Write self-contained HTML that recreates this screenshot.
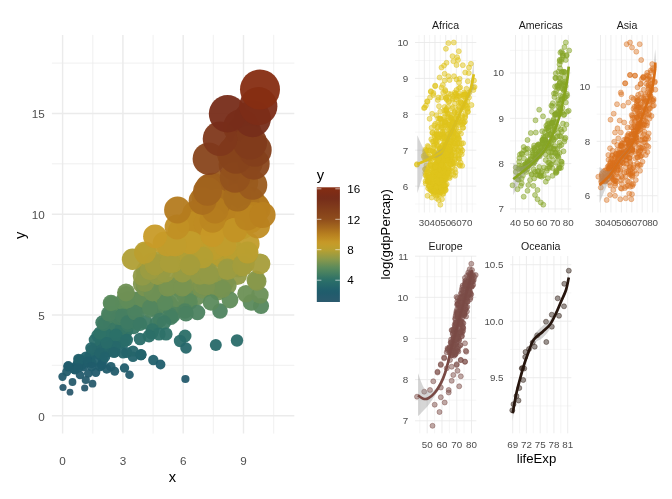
<!DOCTYPE html>
<html><head><meta charset="utf-8"><title>plot</title>
<style>html,body{margin:0;padding:0;background:#fff}svg{display:block}</style></head>
<body>
<svg width="672" height="499" viewBox="0 0 672 499" font-family="Liberation Sans, Arial, sans-serif">
<rect width="672" height="499" fill="#fff"/>
<g stroke="#ebebeb"><line x1="62.6" x2="62.6" y1="34.9" y2="433.6" stroke-width="1.45"/><line x1="92.8" x2="92.8" y1="34.9" y2="433.6" stroke-width="0.75"/><line x1="122.9" x2="122.9" y1="34.9" y2="433.6" stroke-width="1.45"/><line x1="153.1" x2="153.1" y1="34.9" y2="433.6" stroke-width="0.75"/><line x1="183.2" x2="183.2" y1="34.9" y2="433.6" stroke-width="1.45"/><line x1="213.3" x2="213.3" y1="34.9" y2="433.6" stroke-width="0.75"/><line x1="243.5" x2="243.5" y1="34.9" y2="433.6" stroke-width="1.45"/><line x1="273.7" x2="273.7" y1="34.9" y2="433.6" stroke-width="0.75"/><line x1="51.9" x2="294.3" y1="415.7" y2="415.7" stroke-width="1.45"/><line x1="51.9" x2="294.3" y1="365.3" y2="365.3" stroke-width="0.75"/><line x1="51.9" x2="294.3" y1="314.9" y2="314.9" stroke-width="1.45"/><line x1="51.9" x2="294.3" y1="264.6" y2="264.6" stroke-width="0.75"/><line x1="51.9" x2="294.3" y1="214.2" y2="214.2" stroke-width="1.45"/><line x1="51.9" x2="294.3" y1="163.8" y2="163.8" stroke-width="0.75"/><line x1="51.9" x2="294.3" y1="113.4" y2="113.4" stroke-width="1.45"/><line x1="51.9" x2="294.3" y1="63.1" y2="63.1" stroke-width="0.75"/></g>
<g fill-opacity="0.95"><circle cx="111.0" cy="329.9" r="6.8" fill="#337466"/><circle cx="137.2" cy="301.2" r="8.4" fill="#5d8b5b"/><circle cx="188.1" cy="301.9" r="8.3" fill="#5c8b5b"/><circle cx="115.2" cy="338.7" r="6.3" fill="#2a6e68"/><circle cx="230.1" cy="224.2" r="12.6" fill="#bf8c23"/><circle cx="190.8" cy="291.9" r="8.9" fill="#709154"/><circle cx="189.9" cy="222.4" r="12.7" fill="#be8a22"/><circle cx="167.7" cy="259.4" r="10.7" fill="#b09f35"/><circle cx="197.2" cy="296.6" r="8.6" fill="#678e57"/><circle cx="214.5" cy="225.0" r="12.6" fill="#c08d23"/><circle cx="123.6" cy="342.3" r="6.1" fill="#286b69"/><circle cx="235.8" cy="219.4" r="12.9" fill="#bc8621"/><circle cx="206.6" cy="201.0" r="13.9" fill="#ab6f1e"/><circle cx="205.7" cy="197.5" r="14.1" fill="#a76b1e"/><circle cx="142.2" cy="284.0" r="9.3" fill="#80964e"/><circle cx="152.1" cy="263.2" r="10.5" fill="#a89e39"/><circle cx="238.5" cy="267.4" r="10.2" fill="#a19d3e"/><circle cx="90.7" cy="356.9" r="5.3" fill="#22626b"/><circle cx="255.7" cy="206.7" r="13.6" fill="#b0771e"/><circle cx="188.3" cy="279.1" r="9.6" fill="#8a994a"/><circle cx="164.5" cy="290.9" r="8.9" fill="#729153"/><circle cx="133.4" cy="306.0" r="8.1" fill="#55875d"/><circle cx="179.9" cy="231.2" r="12.2" fill="#c49526"/><circle cx="234.0" cy="153.2" r="16.5" fill="#85411b"/><circle cx="197.2" cy="286.4" r="9.2" fill="#7b944f"/><circle cx="234.9" cy="155.6" r="16.4" fill="#87421b"/><circle cx="243.6" cy="199.0" r="14.0" fill="#a96d1e"/><circle cx="205.6" cy="275.4" r="9.8" fill="#919a47"/><circle cx="229.1" cy="212.7" r="13.2" fill="#b67e1f"/><circle cx="120.3" cy="342.7" r="6.1" fill="#286b69"/><circle cx="233.5" cy="154.0" r="16.5" fill="#86411b"/><circle cx="145.3" cy="322.2" r="7.2" fill="#3e7a63"/><circle cx="122.1" cy="308.7" r="8.0" fill="#52855e"/><circle cx="237.3" cy="275.2" r="9.8" fill="#929a46"/><circle cx="185.9" cy="305.2" r="8.2" fill="#57885d"/><circle cx="206.6" cy="261.5" r="10.6" fill="#ac9e38"/><circle cx="238.9" cy="148.3" r="16.8" fill="#833e1b"/><circle cx="164.2" cy="243.1" r="11.6" fill="#c29d2b"/><circle cx="125.2" cy="339.1" r="6.3" fill="#296d69"/><circle cx="183.0" cy="308.2" r="8.0" fill="#52865e"/><circle cx="102.9" cy="342.0" r="6.1" fill="#286b69"/><circle cx="185.1" cy="295.2" r="8.7" fill="#6a8f56"/><circle cx="126.1" cy="294.8" r="8.7" fill="#6a8f56"/><circle cx="242.0" cy="226.8" r="12.5" fill="#c18f24"/><circle cx="155.2" cy="289.1" r="9.0" fill="#769251"/><circle cx="191.7" cy="247.2" r="11.3" fill="#bf9e2d"/><circle cx="174.9" cy="261.9" r="10.5" fill="#ab9e38"/><circle cx="250.8" cy="200.9" r="13.9" fill="#aa6f1e"/><circle cx="149.4" cy="281.1" r="9.5" fill="#86974b"/><circle cx="110.9" cy="339.2" r="6.3" fill="#296d69"/><circle cx="172.7" cy="315.7" r="7.6" fill="#478061"/><circle cx="146.2" cy="293.7" r="8.8" fill="#6d9055"/><circle cx="189.4" cy="301.7" r="8.4" fill="#5c8b5b"/><circle cx="188.4" cy="263.0" r="10.5" fill="#a99e39"/><circle cx="198.8" cy="265.5" r="10.3" fill="#a49d3c"/><circle cx="204.3" cy="219.2" r="12.9" fill="#bc8621"/><circle cx="113.6" cy="330.9" r="6.8" fill="#317366"/><circle cx="181.5" cy="282.6" r="9.4" fill="#83964d"/><circle cx="136.0" cy="319.0" r="7.4" fill="#427d62"/><circle cx="137.1" cy="301.8" r="8.3" fill="#5c8b5b"/><circle cx="123.4" cy="325.9" r="7.0" fill="#387765"/><circle cx="217.3" cy="288.9" r="9.1" fill="#769251"/><circle cx="176.9" cy="249.8" r="11.2" fill="#bd9f2e"/><circle cx="125.3" cy="331.9" r="6.7" fill="#307367"/><circle cx="223.6" cy="259.3" r="10.7" fill="#b09f35"/><circle cx="100.9" cy="342.9" r="6.1" fill="#286b69"/><circle cx="202.5" cy="289.4" r="9.0" fill="#759252"/><circle cx="127.7" cy="324.5" r="7.1" fill="#3a7964"/><circle cx="229.5" cy="229.5" r="12.3" fill="#c39325"/><circle cx="233.8" cy="260.9" r="10.6" fill="#ad9e37"/><circle cx="130.6" cy="305.4" r="8.2" fill="#56885d"/><circle cx="239.7" cy="218.8" r="12.9" fill="#bb8621"/><circle cx="108.4" cy="347.8" r="5.8" fill="#26686a"/><circle cx="169.0" cy="303.1" r="8.3" fill="#5a8a5c"/><circle cx="224.1" cy="184.8" r="14.8" fill="#9a5b1d"/><circle cx="100.1" cy="348.3" r="5.8" fill="#26676a"/><circle cx="224.2" cy="209.0" r="13.4" fill="#b3791f"/><circle cx="224.0" cy="245.8" r="11.4" fill="#c09e2c"/><circle cx="89.4" cy="356.2" r="5.4" fill="#23626b"/><circle cx="221.6" cy="256.8" r="10.8" fill="#b59f32"/><circle cx="132.5" cy="316.1" r="7.6" fill="#477f61"/><circle cx="147.1" cy="304.0" r="8.2" fill="#58895c"/><circle cx="246.8" cy="253.9" r="11.0" fill="#b9a030"/><circle cx="238.7" cy="147.6" r="16.8" fill="#833e1b"/><circle cx="150.0" cy="264.8" r="10.4" fill="#a59d3b"/><circle cx="248.1" cy="243.7" r="11.5" fill="#c29d2b"/><circle cx="212.0" cy="199.4" r="14.0" fill="#a96d1e"/><circle cx="195.5" cy="251.2" r="11.1" fill="#bc9f2f"/><circle cx="121.1" cy="329.5" r="6.8" fill="#337566"/><circle cx="108.9" cy="349.4" r="5.7" fill="#25676a"/><circle cx="180.7" cy="286.2" r="9.2" fill="#7c944f"/><circle cx="224.8" cy="282.4" r="9.4" fill="#83974c"/><circle cx="243.4" cy="182.0" r="14.9" fill="#97571d"/><circle cx="247.4" cy="149.1" r="16.7" fill="#843e1b"/><circle cx="242.6" cy="198.9" r="14.0" fill="#a86d1e"/><circle cx="97.8" cy="349.5" r="5.7" fill="#25666a"/><circle cx="195.5" cy="250.6" r="11.2" fill="#bc9f2e"/><circle cx="145.9" cy="270.7" r="10.0" fill="#9a9c42"/><circle cx="185.4" cy="277.5" r="9.7" fill="#8d9949"/><circle cx="113.8" cy="314.2" r="7.7" fill="#498160"/><circle cx="158.6" cy="266.5" r="10.3" fill="#a29d3d"/><circle cx="133.6" cy="327.3" r="6.9" fill="#367665"/><circle cx="170.0" cy="250.6" r="11.2" fill="#bc9f2e"/><circle cx="97.7" cy="335.6" r="6.5" fill="#2b7068"/><circle cx="247.0" cy="162.3" r="16.0" fill="#8a461c"/><circle cx="227.5" cy="285.6" r="9.2" fill="#7d954f"/><circle cx="188.7" cy="224.4" r="12.6" fill="#bf8c23"/><circle cx="73.5" cy="368.6" r="4.7" fill="#215c6c"/><circle cx="117.1" cy="324.7" r="7.1" fill="#3a7864"/><circle cx="147.8" cy="299.2" r="8.5" fill="#618c59"/><circle cx="218.1" cy="291.5" r="8.9" fill="#719153"/><circle cx="74.5" cy="369.5" r="4.6" fill="#215c6c"/><circle cx="88.4" cy="361.7" r="5.1" fill="#205e6c"/><circle cx="80.7" cy="359.5" r="5.2" fill="#21606b"/><circle cx="126.5" cy="326.5" r="7.0" fill="#387765"/><circle cx="133.5" cy="302.5" r="8.3" fill="#5b8a5c"/><circle cx="180.3" cy="279.8" r="9.6" fill="#89984a"/><circle cx="101.6" cy="345.6" r="5.9" fill="#276969"/><circle cx="206.1" cy="256.5" r="10.8" fill="#b59f32"/><circle cx="79.5" cy="365.5" r="4.9" fill="#1f5c6c"/><circle cx="137.9" cy="300.5" r="8.4" fill="#5f8b5a"/><circle cx="219.3" cy="245.4" r="11.4" fill="#c19d2c"/><circle cx="223.0" cy="212.6" r="13.2" fill="#b67e1f"/><circle cx="149.5" cy="304.4" r="8.2" fill="#58895d"/><circle cx="162.3" cy="268.3" r="10.2" fill="#9f9c3f"/><circle cx="147.3" cy="285.1" r="9.3" fill="#7e954e"/><circle cx="155.3" cy="308.7" r="8.0" fill="#51855e"/><circle cx="170.2" cy="260.4" r="10.6" fill="#ae9e36"/><circle cx="77.8" cy="363.3" r="5.0" fill="#205d6c"/><circle cx="148.3" cy="271.7" r="10.0" fill="#989b43"/><circle cx="250.0" cy="220.6" r="12.8" fill="#bd8822"/><circle cx="242.3" cy="169.9" r="15.6" fill="#8d4b1c"/><circle cx="115.8" cy="328.6" r="6.9" fill="#347566"/><circle cx="195.4" cy="213.8" r="13.2" fill="#b8801f"/><circle cx="221.3" cy="208.9" r="13.4" fill="#b3791f"/><circle cx="209.6" cy="232.9" r="12.1" fill="#c59727"/><circle cx="217.7" cy="286.7" r="9.2" fill="#7b9450"/><circle cx="81.9" cy="365.2" r="4.9" fill="#1f5c6c"/><circle cx="238.8" cy="256.2" r="10.8" fill="#b6a032"/><circle cx="197.6" cy="216.4" r="13.0" fill="#ba8320"/><circle cx="222.5" cy="284.8" r="9.3" fill="#7f954e"/><circle cx="216.3" cy="232.5" r="12.1" fill="#c59626"/><circle cx="205.9" cy="286.7" r="9.2" fill="#7b9450"/><circle cx="212.6" cy="187.4" r="14.6" fill="#9d5e1d"/><circle cx="75.8" cy="366.3" r="4.8" fill="#1f5c6c"/><circle cx="175.8" cy="242.8" r="11.6" fill="#c39d2b"/><circle cx="111.8" cy="343.3" r="6.1" fill="#286b69"/><circle cx="113.3" cy="324.7" r="7.1" fill="#3a7864"/><circle cx="213.6" cy="248.7" r="11.3" fill="#be9e2d"/><circle cx="136.7" cy="313.6" r="7.7" fill="#4a8160"/><circle cx="133.3" cy="315.4" r="7.6" fill="#488061"/><circle cx="80.2" cy="360.1" r="5.1" fill="#215f6b"/><circle cx="257.2" cy="208.9" r="13.4" fill="#b3791f"/><circle cx="212.3" cy="276.5" r="9.7" fill="#8f9a48"/><circle cx="201.1" cy="220.8" r="12.8" fill="#bd8822"/><circle cx="197.7" cy="249.4" r="11.2" fill="#bd9f2e"/><circle cx="159.9" cy="275.5" r="9.8" fill="#919a47"/><circle cx="242.2" cy="257.9" r="10.8" fill="#b29f34"/><circle cx="246.0" cy="203.9" r="13.7" fill="#ae731e"/><circle cx="151.8" cy="278.6" r="9.6" fill="#8b9949"/><circle cx="100.6" cy="348.3" r="5.8" fill="#26676a"/><circle cx="103.2" cy="335.9" r="6.5" fill="#2b6f68"/><circle cx="126.3" cy="330.7" r="6.8" fill="#317466"/><circle cx="122.5" cy="311.2" r="7.8" fill="#4e835f"/><circle cx="145.8" cy="276.4" r="9.7" fill="#909a48"/><circle cx="179.9" cy="288.6" r="9.1" fill="#779351"/><circle cx="106.9" cy="352.2" r="5.6" fill="#24656a"/><circle cx="159.0" cy="295.7" r="8.7" fill="#688e57"/><circle cx="97.9" cy="347.7" r="5.8" fill="#26686a"/><circle cx="127.7" cy="302.1" r="8.3" fill="#5c8a5b"/><circle cx="159.0" cy="279.6" r="9.6" fill="#89984a"/><circle cx="156.7" cy="264.7" r="10.4" fill="#a69d3b"/><circle cx="227.1" cy="216.7" r="13.0" fill="#ba8320"/><circle cx="159.4" cy="270.2" r="10.1" fill="#9b9c41"/><circle cx="234.1" cy="230.5" r="12.3" fill="#c49426"/><circle cx="209.6" cy="188.3" r="14.6" fill="#9e5f1d"/><circle cx="156.6" cy="308.9" r="8.0" fill="#51855e"/><circle cx="110.3" cy="323.9" r="7.1" fill="#3b7964"/><circle cx="233.5" cy="251.6" r="11.1" fill="#bb9f2f"/><circle cx="101.3" cy="348.0" r="5.8" fill="#26676a"/><circle cx="100.9" cy="334.6" r="6.5" fill="#2c7068"/><circle cx="234.5" cy="164.6" r="15.9" fill="#8b481c"/><circle cx="114.3" cy="313.5" r="7.7" fill="#4b8160"/><circle cx="126.0" cy="321.5" r="7.3" fill="#3f7b63"/><circle cx="208.7" cy="287.3" r="9.1" fill="#7a9450"/><circle cx="121.7" cy="328.3" r="6.9" fill="#357565"/><circle cx="179.1" cy="252.7" r="11.0" fill="#bb9f2f"/><circle cx="150.4" cy="295.9" r="8.7" fill="#688e57"/><circle cx="105.4" cy="333.8" r="6.6" fill="#2d7168"/><circle cx="253.7" cy="215.1" r="13.1" fill="#b9811f"/><circle cx="171.9" cy="307.1" r="8.1" fill="#54875e"/><circle cx="118.3" cy="317.5" r="7.5" fill="#457e61"/><circle cx="244.4" cy="263.7" r="10.4" fill="#a89e3a"/><circle cx="250.9" cy="219.8" r="12.8" fill="#bc8721"/><circle cx="217.3" cy="202.5" r="13.8" fill="#ac711e"/><circle cx="122.4" cy="312.7" r="7.7" fill="#4c8260"/><circle cx="193.8" cy="224.0" r="12.6" fill="#bf8c23"/><circle cx="116.5" cy="315.7" r="7.6" fill="#478061"/><circle cx="170.3" cy="308.6" r="8.0" fill="#52855e"/><circle cx="161.9" cy="295.7" r="8.7" fill="#698e57"/><circle cx="206.5" cy="223.3" r="12.7" fill="#bf8b23"/><circle cx="176.3" cy="298.8" r="8.5" fill="#628c59"/><circle cx="192.1" cy="243.3" r="11.6" fill="#c29d2b"/><circle cx="70.0" cy="392.2" r="3.4" fill="#2c5a6e"/><circle cx="63.0" cy="387.5" r="3.6" fill="#295a6e"/><circle cx="84.7" cy="388.0" r="3.6" fill="#2a5a6e"/><circle cx="92.5" cy="383.7" r="3.9" fill="#285b6d"/><circle cx="72.5" cy="382.0" r="3.9" fill="#275b6d"/><circle cx="62.5" cy="376.7" r="4.2" fill="#245b6d"/><circle cx="68.3" cy="365.8" r="4.8" fill="#1f5c6c"/><circle cx="78.3" cy="359.0" r="5.2" fill="#22606b"/><circle cx="66.7" cy="371.7" r="4.5" fill="#225c6c"/><circle cx="75.0" cy="370.0" r="4.6" fill="#215c6c"/><circle cx="83.3" cy="366.7" r="4.8" fill="#205c6c"/><circle cx="91.7" cy="363.3" r="5.0" fill="#205d6c"/><circle cx="80.0" cy="375.0" r="4.3" fill="#245b6d"/><circle cx="88.3" cy="373.3" r="4.4" fill="#235b6d"/><circle cx="95.8" cy="372.5" r="4.5" fill="#225b6d"/><circle cx="85.8" cy="380.0" r="4.1" fill="#265b6d"/><circle cx="100.0" cy="366.7" r="4.8" fill="#205c6c"/><circle cx="103.0" cy="360.0" r="5.2" fill="#21606b"/><circle cx="110.8" cy="366.7" r="4.8" fill="#205c6c"/><circle cx="106.7" cy="369.0" r="4.7" fill="#215c6c"/><circle cx="114.7" cy="371.3" r="4.5" fill="#225c6c"/><circle cx="124.5" cy="368.0" r="4.7" fill="#205c6c"/><circle cx="129.5" cy="374.7" r="4.3" fill="#235b6d"/><circle cx="153.3" cy="360.0" r="5.2" fill="#21606b"/><circle cx="160.5" cy="364.5" r="4.9" fill="#1f5d6c"/><circle cx="133.0" cy="356.7" r="5.3" fill="#22626b"/><circle cx="141.0" cy="354.7" r="5.4" fill="#23636b"/><circle cx="126.7" cy="352.5" r="5.6" fill="#24646a"/><circle cx="115.0" cy="351.7" r="5.6" fill="#24656a"/><circle cx="91.7" cy="350.0" r="5.7" fill="#25666a"/><circle cx="100.0" cy="355.0" r="5.4" fill="#23636b"/><circle cx="85.8" cy="356.7" r="5.3" fill="#22626b"/><circle cx="79.0" cy="360.0" r="5.2" fill="#21606b"/><circle cx="68.0" cy="366.7" r="4.8" fill="#205c6c"/><circle cx="88.0" cy="361.7" r="5.1" fill="#205e6c"/><circle cx="96.7" cy="360.0" r="5.2" fill="#21606b"/><circle cx="91.7" cy="366.7" r="4.8" fill="#205c6c"/><circle cx="78.0" cy="368.0" r="4.7" fill="#205c6c"/><circle cx="101.7" cy="365.0" r="4.9" fill="#1f5c6c"/><circle cx="95.0" cy="340.0" r="6.3" fill="#296d69"/><circle cx="91.0" cy="348.0" r="5.8" fill="#26676a"/><circle cx="100.0" cy="333.0" r="6.6" fill="#2e7267"/><circle cx="104.0" cy="324.0" r="7.1" fill="#3b7964"/><circle cx="109.0" cy="315.8" r="7.6" fill="#478061"/><circle cx="111.7" cy="304.2" r="8.2" fill="#58895c"/><circle cx="116.0" cy="335.0" r="6.5" fill="#2b7068"/><circle cx="126.7" cy="340.0" r="6.3" fill="#296d69"/><circle cx="140.0" cy="339.0" r="6.3" fill="#296d69"/><circle cx="151.7" cy="333.0" r="6.6" fill="#2e7267"/><circle cx="156.7" cy="323.0" r="7.2" fill="#3d7a63"/><circle cx="115.0" cy="346.7" r="5.9" fill="#26686a"/><circle cx="106.7" cy="343.0" r="6.1" fill="#286b69"/><circle cx="100.0" cy="353.0" r="5.5" fill="#24646a"/><circle cx="105.0" cy="356.7" r="5.3" fill="#22626b"/><circle cx="114.0" cy="352.5" r="5.6" fill="#24646a"/><circle cx="123.0" cy="353.0" r="5.5" fill="#24646a"/><circle cx="133.0" cy="351.0" r="5.6" fill="#25656a"/><circle cx="141.0" cy="355.0" r="5.4" fill="#23636b"/><circle cx="128.0" cy="325.0" r="7.1" fill="#3a7864"/><circle cx="136.7" cy="323.0" r="7.2" fill="#3d7a63"/><circle cx="121.7" cy="318.0" r="7.5" fill="#447e62"/><circle cx="123.0" cy="301.7" r="8.4" fill="#5c8b5b"/><circle cx="136.7" cy="300.0" r="8.4" fill="#608c5a"/><circle cx="150.0" cy="298.0" r="8.6" fill="#648d58"/><circle cx="185.4" cy="379.0" r="4.1" fill="#255b6d"/><circle cx="185.0" cy="336.0" r="6.5" fill="#2b6f68"/><circle cx="180.0" cy="341.0" r="6.2" fill="#296c69"/><circle cx="186.0" cy="348.0" r="5.8" fill="#26676a"/><circle cx="215.8" cy="345.0" r="6.0" fill="#276969"/><circle cx="237.0" cy="340.5" r="6.2" fill="#296c69"/><circle cx="141.0" cy="354.5" r="5.5" fill="#23636b"/><circle cx="102.5" cy="322.5" r="7.2" fill="#3d7a63"/><circle cx="108.8" cy="313.8" r="7.7" fill="#4a8160"/><circle cx="122.5" cy="316.0" r="7.6" fill="#477f61"/><circle cx="127.5" cy="322.5" r="7.2" fill="#3d7a63"/><circle cx="135.0" cy="312.5" r="7.8" fill="#4c8260"/><circle cx="150.0" cy="310.0" r="7.9" fill="#50845f"/><circle cx="160.0" cy="320.0" r="7.3" fill="#417c62"/><circle cx="165.0" cy="305.0" r="8.2" fill="#57885d"/><circle cx="170.0" cy="315.0" r="7.6" fill="#488061"/><circle cx="185.0" cy="311.0" r="7.8" fill="#4e835f"/><circle cx="197.5" cy="312.5" r="7.8" fill="#4c8260"/><circle cx="186.0" cy="313.8" r="7.7" fill="#4a8160"/><circle cx="171.0" cy="317.5" r="7.5" fill="#457e61"/><circle cx="164.0" cy="322.5" r="7.2" fill="#3d7a63"/><circle cx="152.5" cy="330.0" r="6.8" fill="#327466"/><circle cx="166.0" cy="334.0" r="6.6" fill="#2d7168"/><circle cx="159.0" cy="334.0" r="6.6" fill="#2d7168"/><circle cx="149.0" cy="336.0" r="6.5" fill="#2b6f68"/><circle cx="140.0" cy="324.0" r="7.1" fill="#3b7964"/><circle cx="111.0" cy="303.0" r="8.3" fill="#5a8a5c"/><circle cx="127.5" cy="300.0" r="8.4" fill="#608c5a"/><circle cx="142.5" cy="298.8" r="8.5" fill="#628c59"/><circle cx="157.5" cy="293.8" r="8.8" fill="#6c9055"/><circle cx="126.0" cy="292.5" r="8.9" fill="#6f9054"/><circle cx="145.0" cy="287.5" r="9.1" fill="#799350"/><circle cx="170.0" cy="286.0" r="9.2" fill="#7c944f"/><circle cx="184.0" cy="286.0" r="9.2" fill="#7c944f"/><circle cx="202.5" cy="285.0" r="9.3" fill="#7e954e"/><circle cx="165.0" cy="302.5" r="8.3" fill="#5b8a5c"/><circle cx="150.0" cy="307.5" r="8.0" fill="#53865e"/><circle cx="220.0" cy="311.0" r="7.8" fill="#4e835f"/><circle cx="211.0" cy="302.5" r="8.3" fill="#5b8a5c"/><circle cx="230.0" cy="300.0" r="8.4" fill="#608c5a"/><circle cx="222.5" cy="289.0" r="9.0" fill="#769251"/><circle cx="206.0" cy="286.0" r="9.2" fill="#7c944f"/><circle cx="261.0" cy="306.0" r="8.1" fill="#55875d"/><circle cx="251.0" cy="302.5" r="8.3" fill="#5b8a5c"/><circle cx="246.0" cy="293.8" r="8.8" fill="#6c9055"/><circle cx="260.0" cy="295.0" r="8.7" fill="#6a8f56"/><circle cx="152.5" cy="292.5" r="8.9" fill="#6f9054"/><circle cx="167.5" cy="287.5" r="9.1" fill="#799350"/><circle cx="182.5" cy="287.5" r="9.1" fill="#799350"/><circle cx="145.0" cy="282.5" r="9.4" fill="#83964c"/><circle cx="142.5" cy="276.0" r="9.8" fill="#909a47"/><circle cx="157.5" cy="275.0" r="9.8" fill="#929a46"/><circle cx="182.5" cy="272.5" r="10.0" fill="#979b43"/><circle cx="200.0" cy="275.0" r="9.8" fill="#929a46"/><circle cx="165.0" cy="272.5" r="10.0" fill="#979b43"/><circle cx="150.0" cy="270.0" r="10.1" fill="#9c9c41"/><circle cx="208.8" cy="272.5" r="10.0" fill="#979b43"/><circle cx="227.5" cy="268.8" r="10.2" fill="#9e9c3f"/><circle cx="242.5" cy="265.0" r="10.4" fill="#a59d3b"/><circle cx="257.0" cy="281.3" r="9.5" fill="#86974c"/><circle cx="256.0" cy="280.0" r="9.5" fill="#88984b"/><circle cx="227.5" cy="270.0" r="10.1" fill="#9c9c41"/><circle cx="209.0" cy="275.0" r="9.8" fill="#929a46"/><circle cx="242.5" cy="266.0" r="10.3" fill="#a39d3c"/><circle cx="132.5" cy="259.3" r="10.7" fill="#b09f35"/><circle cx="146.0" cy="253.8" r="11.0" fill="#baa030"/><circle cx="157.5" cy="262.5" r="10.5" fill="#aa9e39"/><circle cx="172.5" cy="262.5" r="10.5" fill="#aa9e39"/><circle cx="187.5" cy="260.0" r="10.6" fill="#af9f36"/><circle cx="202.5" cy="257.5" r="10.8" fill="#b39f33"/><circle cx="260.0" cy="263.8" r="10.4" fill="#a79d3a"/><circle cx="155.0" cy="265.0" r="10.4" fill="#a59d3b"/><circle cx="170.0" cy="262.5" r="10.5" fill="#aa9e39"/><circle cx="190.0" cy="265.0" r="10.4" fill="#a59d3b"/><circle cx="145.0" cy="252.5" r="11.0" fill="#bb9f2f"/><circle cx="167.5" cy="245.0" r="11.5" fill="#c19d2c"/><circle cx="190.0" cy="242.5" r="11.6" fill="#c39d2b"/><circle cx="175.0" cy="245.0" r="11.5" fill="#c19d2c"/><circle cx="225.0" cy="245.0" r="11.5" fill="#c19d2c"/><circle cx="247.5" cy="252.5" r="11.0" fill="#bb9f2f"/><circle cx="212.5" cy="235.0" r="12.0" fill="#c79927"/><circle cx="235.0" cy="230.0" r="12.3" fill="#c39325"/><circle cx="257.5" cy="226.0" r="12.5" fill="#c18e24"/><circle cx="155.0" cy="236.3" r="11.9" fill="#c89b28"/><circle cx="177.0" cy="227.0" r="12.4" fill="#c19024"/><circle cx="212.5" cy="220.0" r="12.8" fill="#bc8721"/><circle cx="247.5" cy="217.5" r="13.0" fill="#ba8420"/><circle cx="215.0" cy="210.0" r="13.4" fill="#b47b1f"/><circle cx="177.5" cy="210.0" r="13.4" fill="#b47b1f"/><circle cx="262.5" cy="215.0" r="13.1" fill="#b9811f"/><circle cx="202.5" cy="201.0" r="13.9" fill="#ab6f1e"/><circle cx="237.5" cy="197.5" r="14.1" fill="#a76b1e"/><circle cx="207.5" cy="191.3" r="14.4" fill="#a1631d"/><circle cx="252.5" cy="185.0" r="14.8" fill="#9a5b1d"/><circle cx="235.0" cy="177.5" r="15.2" fill="#93521c"/><circle cx="241.0" cy="127.0" r="17.9" fill="#79321a"/><circle cx="244.0" cy="133.0" r="17.6" fill="#7c351b"/><circle cx="208.8" cy="158.8" r="16.2" fill="#88441b"/><circle cx="253.8" cy="163.8" r="15.9" fill="#8a471c"/><circle cx="236.0" cy="157.5" r="16.3" fill="#87431b"/><circle cx="255.0" cy="150.0" r="16.7" fill="#843f1b"/><circle cx="250.0" cy="142.5" r="17.1" fill="#813b1b"/><circle cx="220.0" cy="138.8" r="17.3" fill="#7f381b"/><circle cx="252.5" cy="118.8" r="18.4" fill="#762d1a"/><circle cx="227.5" cy="113.8" r="18.7" fill="#772c19"/><circle cx="258.3" cy="106.2" r="19.1" fill="#7c2c17"/><circle cx="260.0" cy="89.5" r="20.0" fill="#862d12"/></g>
<g font-size="11.7" fill="#4d4d4d">
<text x="44.8" y="420.6" text-anchor="end">0</text>
<text x="44.8" y="319.8" text-anchor="end">5</text>
<text x="44.8" y="219.1" text-anchor="end">10</text>
<text x="44.8" y="118.3" text-anchor="end">15</text>
<text x="62.6" y="465.2" text-anchor="middle">0</text>
<text x="122.9" y="465.2" text-anchor="middle">3</text>
<text x="183.2" y="465.2" text-anchor="middle">6</text>
<text x="243.5" y="465.2" text-anchor="middle">9</text>
</g>
<text x="172.5" y="481.5" font-size="14.7" text-anchor="middle" fill="#000">x</text>
<text transform="translate(24.8,235.3) rotate(-90)" font-size="14.7" text-anchor="middle" fill="#000">y</text>
<defs><linearGradient id="lg" x1="0" y1="1" x2="0" y2="0">
<stop offset="0.0000" stop-color="#2c5a6e"/>
<stop offset="0.0250" stop-color="#285b6d"/>
<stop offset="0.0500" stop-color="#255b6d"/>
<stop offset="0.0750" stop-color="#215c6c"/>
<stop offset="0.1000" stop-color="#205e6c"/>
<stop offset="0.1250" stop-color="#23636b"/>
<stop offset="0.1500" stop-color="#26686a"/>
<stop offset="0.1750" stop-color="#296d69"/>
<stop offset="0.2000" stop-color="#2f7267"/>
<stop offset="0.2250" stop-color="#3a7864"/>
<stop offset="0.2500" stop-color="#457f61"/>
<stop offset="0.2750" stop-color="#50855e"/>
<stop offset="0.3000" stop-color="#5c8b5b"/>
<stop offset="0.3250" stop-color="#6b8f55"/>
<stop offset="0.3500" stop-color="#7b9450"/>
<stop offset="0.3750" stop-color="#8a994a"/>
<stop offset="0.4000" stop-color="#999b42"/>
<stop offset="0.4250" stop-color="#a79d3a"/>
<stop offset="0.4500" stop-color="#b6a032"/>
<stop offset="0.4750" stop-color="#be9e2d"/>
<stop offset="0.5000" stop-color="#c49c2a"/>
<stop offset="0.5250" stop-color="#c69827"/>
<stop offset="0.5500" stop-color="#c08e24"/>
<stop offset="0.5750" stop-color="#bb8521"/>
<stop offset="0.6000" stop-color="#b47c1f"/>
<stop offset="0.6250" stop-color="#ad721e"/>
<stop offset="0.6500" stop-color="#a5681e"/>
<stop offset="0.6750" stop-color="#9d5f1d"/>
<stop offset="0.7000" stop-color="#96551c"/>
<stop offset="0.7250" stop-color="#8e4c1c"/>
<stop offset="0.7500" stop-color="#8b481c"/>
<stop offset="0.7750" stop-color="#87431b"/>
<stop offset="0.8000" stop-color="#843f1b"/>
<stop offset="0.8250" stop-color="#803b1b"/>
<stop offset="0.8500" stop-color="#7d361b"/>
<stop offset="0.8750" stop-color="#79321a"/>
<stop offset="0.9000" stop-color="#762d1a"/>
<stop offset="0.9250" stop-color="#782c18"/>
<stop offset="0.9500" stop-color="#7d2c16"/>
<stop offset="0.9750" stop-color="#812d14"/>
<stop offset="1.0000" stop-color="#862d12"/>
</linearGradient></defs>
<rect x="316.8" y="187.3" width="23.1" height="114.7" fill="url(#lg)"/>
<text x="316.8" y="180.3" font-size="14.7" fill="#000">y</text>
<g font-size="11.7" fill="#000">
<line x1="316.8" x2="321.4" y1="280.2" y2="280.2" stroke="#fff" stroke-width="0.6"/>
<line x1="335.3" x2="339.9" y1="280.2" y2="280.2" stroke="#fff" stroke-width="0.6"/>
<text x="347.2" y="284.4">4</text>
<line x1="316.8" x2="321.4" y1="249.7" y2="249.7" stroke="#fff" stroke-width="0.6"/>
<line x1="335.3" x2="339.9" y1="249.7" y2="249.7" stroke="#fff" stroke-width="0.6"/>
<text x="347.2" y="253.9">8</text>
<line x1="316.8" x2="321.4" y1="219.3" y2="219.3" stroke="#fff" stroke-width="0.6"/>
<line x1="335.3" x2="339.9" y1="219.3" y2="219.3" stroke="#fff" stroke-width="0.6"/>
<text x="347.2" y="223.5">12</text>
<line x1="316.8" x2="321.4" y1="188.8" y2="188.8" stroke="#fff" stroke-width="0.6"/>
<line x1="335.3" x2="339.9" y1="188.8" y2="188.8" stroke="#fff" stroke-width="0.6"/>
<text x="347.2" y="193.0">16</text>
</g>
<g stroke="#ececec" stroke-width="0.5"><line x1="419.0" x2="419.0" y1="35" y2="212.5"/><line x1="429.6" x2="429.6" y1="35" y2="212.5"/><line x1="440.3" x2="440.3" y1="35" y2="212.5"/><line x1="451.0" x2="451.0" y1="35" y2="212.5"/><line x1="461.7" x2="461.7" y1="35" y2="212.5"/><line x1="472.3" x2="472.3" y1="35" y2="212.5"/><line x1="415" x2="476.3" y1="60.5" y2="60.5"/><line x1="415" x2="476.3" y1="96.3" y2="96.3"/><line x1="415" x2="476.3" y1="132.2" y2="132.2"/><line x1="415" x2="476.3" y1="168.1" y2="168.1"/><line x1="415" x2="476.3" y1="204.0" y2="204.0"/></g><g stroke="#e8e8e8" stroke-width="0.85"><line x1="424.3" x2="424.3" y1="35" y2="212.5"/><line x1="435.0" x2="435.0" y1="35" y2="212.5"/><line x1="445.7" x2="445.7" y1="35" y2="212.5"/><line x1="456.3" x2="456.3" y1="35" y2="212.5"/><line x1="467.0" x2="467.0" y1="35" y2="212.5"/><line x1="415" x2="476.3" y1="42.5" y2="42.5"/><line x1="415" x2="476.3" y1="78.4" y2="78.4"/><line x1="415" x2="476.3" y1="114.3" y2="114.3"/><line x1="415" x2="476.3" y1="150.2" y2="150.2"/><line x1="415" x2="476.3" y1="186.1" y2="186.1"/></g><text x="445.5" y="28.8" font-size="10.6" text-anchor="middle" fill="#1a1a1a">Africa</text><g font-size="9.8" fill="#4d4d4d"><text x="408.3" y="45.9" text-anchor="end">10</text><text x="408.3" y="81.8" text-anchor="end">9</text><text x="408.3" y="117.7" text-anchor="end">8</text><text x="408.3" y="153.6" text-anchor="end">7</text><text x="408.3" y="189.5" text-anchor="end">6</text><text x="424.3" y="226.4" text-anchor="middle">30</text><text x="435.0" y="226.4" text-anchor="middle">40</text><text x="445.7" y="226.4" text-anchor="middle">50</text><text x="456.3" y="226.4" text-anchor="middle">60</text><text x="467.0" y="226.4" text-anchor="middle">70</text></g>
<g fill="#dfc31c" fill-opacity="0.5" stroke="#dfc31c" stroke-opacity="0.5" stroke-width="0.95"><circle cx="452.7" cy="133.7" r="2.5"/><circle cx="441.7" cy="147.3" r="2.5"/><circle cx="446.1" cy="97.6" r="2.5"/><circle cx="444.7" cy="131.6" r="2.5"/><circle cx="445.3" cy="169.6" r="2.5"/><circle cx="451.3" cy="141.5" r="2.5"/><circle cx="436.6" cy="175.4" r="2.5"/><circle cx="445.1" cy="122.5" r="2.5"/><circle cx="439.4" cy="194.6" r="2.5"/><circle cx="456.6" cy="139.3" r="2.5"/><circle cx="461.0" cy="148.7" r="2.5"/><circle cx="440.3" cy="118.5" r="2.5"/><circle cx="437.3" cy="170.4" r="2.5"/><circle cx="448.8" cy="102.3" r="2.5"/><circle cx="432.3" cy="185.3" r="2.5"/><circle cx="431.3" cy="139.3" r="2.5"/><circle cx="436.8" cy="163.0" r="2.5"/><circle cx="442.1" cy="167.0" r="2.5"/><circle cx="459.0" cy="124.9" r="2.5"/><circle cx="427.7" cy="145.9" r="2.5"/><circle cx="441.5" cy="87.5" r="2.5"/><circle cx="453.5" cy="137.9" r="2.5"/><circle cx="433.0" cy="175.1" r="2.5"/><circle cx="437.0" cy="166.6" r="2.5"/><circle cx="431.8" cy="179.0" r="2.5"/><circle cx="450.8" cy="148.9" r="2.5"/><circle cx="443.8" cy="177.8" r="2.5"/><circle cx="447.3" cy="153.0" r="2.5"/><circle cx="446.6" cy="110.5" r="2.5"/><circle cx="444.6" cy="73.8" r="2.5"/><circle cx="451.3" cy="156.3" r="2.5"/><circle cx="441.6" cy="186.5" r="2.5"/><circle cx="439.0" cy="176.1" r="2.5"/><circle cx="431.1" cy="190.2" r="2.5"/><circle cx="450.5" cy="149.3" r="2.5"/><circle cx="445.0" cy="187.9" r="2.5"/><circle cx="437.1" cy="172.7" r="2.5"/><circle cx="453.3" cy="121.7" r="2.5"/><circle cx="435.3" cy="190.4" r="2.5"/><circle cx="437.1" cy="128.0" r="2.5"/><circle cx="468.8" cy="73.1" r="2.5"/><circle cx="442.4" cy="134.1" r="2.5"/><circle cx="450.6" cy="164.4" r="2.5"/><circle cx="439.5" cy="180.0" r="2.5"/><circle cx="450.2" cy="160.4" r="2.5"/><circle cx="444.3" cy="173.0" r="2.5"/><circle cx="440.2" cy="136.5" r="2.5"/><circle cx="437.5" cy="193.0" r="2.5"/><circle cx="452.8" cy="107.1" r="2.5"/><circle cx="454.9" cy="149.0" r="2.5"/><circle cx="426.7" cy="157.1" r="2.5"/><circle cx="442.3" cy="168.6" r="2.5"/><circle cx="448.0" cy="112.9" r="2.5"/><circle cx="442.3" cy="161.0" r="2.5"/><circle cx="438.1" cy="122.4" r="2.5"/><circle cx="446.9" cy="99.7" r="2.5"/><circle cx="435.9" cy="183.6" r="2.5"/><circle cx="442.7" cy="145.1" r="2.5"/><circle cx="430.9" cy="91.2" r="2.5"/><circle cx="458.4" cy="158.8" r="2.5"/><circle cx="436.3" cy="176.5" r="2.5"/><circle cx="440.6" cy="176.0" r="2.5"/><circle cx="454.2" cy="123.9" r="2.5"/><circle cx="442.8" cy="131.8" r="2.5"/><circle cx="454.8" cy="159.3" r="2.5"/><circle cx="445.1" cy="156.3" r="2.5"/><circle cx="425.5" cy="159.3" r="2.5"/><circle cx="436.2" cy="195.7" r="2.5"/><circle cx="434.0" cy="184.5" r="2.5"/><circle cx="436.3" cy="181.7" r="2.5"/><circle cx="437.5" cy="126.8" r="2.5"/><circle cx="460.5" cy="102.0" r="2.5"/><circle cx="445.1" cy="136.6" r="2.5"/><circle cx="444.6" cy="167.9" r="2.5"/><circle cx="440.2" cy="118.5" r="2.5"/><circle cx="426.9" cy="171.8" r="2.5"/><circle cx="444.5" cy="171.1" r="2.5"/><circle cx="449.2" cy="124.9" r="2.5"/><circle cx="448.3" cy="160.1" r="2.5"/><circle cx="461.7" cy="154.2" r="2.5"/><circle cx="445.9" cy="48.8" r="2.5"/><circle cx="458.2" cy="150.9" r="2.5"/><circle cx="425.6" cy="154.6" r="2.5"/><circle cx="465.1" cy="100.7" r="2.5"/><circle cx="447.0" cy="174.1" r="2.5"/><circle cx="470.9" cy="63.8" r="2.5"/><circle cx="451.9" cy="140.6" r="2.5"/><circle cx="434.2" cy="153.0" r="2.5"/><circle cx="444.2" cy="173.0" r="2.5"/><circle cx="443.7" cy="178.4" r="2.5"/><circle cx="428.8" cy="185.9" r="2.5"/><circle cx="439.0" cy="106.2" r="2.5"/><circle cx="437.2" cy="191.6" r="2.5"/><circle cx="434.8" cy="187.2" r="2.5"/><circle cx="435.7" cy="168.1" r="2.5"/><circle cx="438.1" cy="168.6" r="2.5"/><circle cx="474.6" cy="86.9" r="2.5"/><circle cx="430.9" cy="165.4" r="2.5"/><circle cx="436.2" cy="185.8" r="2.5"/><circle cx="459.2" cy="139.1" r="2.5"/><circle cx="440.6" cy="169.7" r="2.5"/><circle cx="449.4" cy="169.6" r="2.5"/><circle cx="442.1" cy="160.3" r="2.5"/><circle cx="443.2" cy="194.0" r="2.5"/><circle cx="437.6" cy="165.6" r="2.5"/><circle cx="454.5" cy="137.5" r="2.5"/><circle cx="443.4" cy="167.6" r="2.5"/><circle cx="446.6" cy="146.8" r="2.5"/><circle cx="424.2" cy="157.5" r="2.5"/><circle cx="462.3" cy="150.6" r="2.5"/><circle cx="454.9" cy="128.1" r="2.5"/><circle cx="460.0" cy="165.8" r="2.5"/><circle cx="438.3" cy="182.4" r="2.5"/><circle cx="434.1" cy="144.6" r="2.5"/><circle cx="449.6" cy="161.6" r="2.5"/><circle cx="439.7" cy="188.3" r="2.5"/><circle cx="447.6" cy="159.8" r="2.5"/><circle cx="449.6" cy="160.6" r="2.5"/><circle cx="448.8" cy="160.3" r="2.5"/><circle cx="441.2" cy="154.5" r="2.5"/><circle cx="440.3" cy="123.7" r="2.5"/><circle cx="417.0" cy="164.2" r="2.5"/><circle cx="452.9" cy="98.4" r="2.5"/><circle cx="462.3" cy="116.1" r="2.5"/><circle cx="459.4" cy="107.8" r="2.5"/><circle cx="450.1" cy="117.7" r="2.5"/><circle cx="442.8" cy="182.4" r="2.5"/><circle cx="451.1" cy="117.6" r="2.5"/><circle cx="466.1" cy="105.0" r="2.5"/><circle cx="457.9" cy="157.3" r="2.5"/><circle cx="443.1" cy="150.0" r="2.5"/><circle cx="445.9" cy="161.9" r="2.5"/><circle cx="429.4" cy="156.2" r="2.5"/><circle cx="440.3" cy="178.9" r="2.5"/><circle cx="435.7" cy="157.4" r="2.5"/><circle cx="459.0" cy="82.5" r="2.5"/><circle cx="454.4" cy="151.9" r="2.5"/><circle cx="465.2" cy="72.5" r="2.5"/><circle cx="448.4" cy="154.5" r="2.5"/><circle cx="446.9" cy="175.4" r="2.5"/><circle cx="467.5" cy="95.9" r="2.5"/><circle cx="428.5" cy="146.9" r="2.5"/><circle cx="453.4" cy="61.2" r="2.5"/><circle cx="461.5" cy="143.4" r="2.5"/><circle cx="439.6" cy="172.0" r="2.5"/><circle cx="456.9" cy="116.2" r="2.5"/><circle cx="446.7" cy="184.2" r="2.5"/><circle cx="437.8" cy="172.5" r="2.5"/><circle cx="458.6" cy="118.4" r="2.5"/><circle cx="449.9" cy="176.0" r="2.5"/><circle cx="430.4" cy="165.6" r="2.5"/><circle cx="439.0" cy="178.6" r="2.5"/><circle cx="450.6" cy="160.8" r="2.5"/><circle cx="437.6" cy="173.8" r="2.5"/><circle cx="438.1" cy="160.0" r="2.5"/><circle cx="439.8" cy="173.6" r="2.5"/><circle cx="444.8" cy="159.7" r="2.5"/><circle cx="432.3" cy="172.0" r="2.5"/><circle cx="425.4" cy="149.6" r="2.5"/><circle cx="425.3" cy="169.4" r="2.5"/><circle cx="462.0" cy="107.7" r="2.5"/><circle cx="432.4" cy="150.8" r="2.5"/><circle cx="442.4" cy="132.5" r="2.5"/><circle cx="437.5" cy="177.3" r="2.5"/><circle cx="444.0" cy="156.9" r="2.5"/><circle cx="451.7" cy="143.8" r="2.5"/><circle cx="426.6" cy="150.6" r="2.5"/><circle cx="452.5" cy="162.1" r="2.5"/><circle cx="427.5" cy="101.7" r="2.5"/><circle cx="445.5" cy="174.1" r="2.5"/><circle cx="444.6" cy="158.3" r="2.5"/><circle cx="459.0" cy="88.1" r="2.5"/><circle cx="455.3" cy="163.7" r="2.5"/><circle cx="454.9" cy="103.6" r="2.5"/><circle cx="458.0" cy="137.1" r="2.5"/><circle cx="452.7" cy="140.3" r="2.5"/><circle cx="439.9" cy="185.8" r="2.5"/><circle cx="426.5" cy="165.4" r="2.5"/><circle cx="442.3" cy="156.6" r="2.5"/><circle cx="440.8" cy="155.8" r="2.5"/><circle cx="439.4" cy="173.2" r="2.5"/><circle cx="444.1" cy="137.3" r="2.5"/><circle cx="449.7" cy="171.1" r="2.5"/><circle cx="452.9" cy="122.6" r="2.5"/><circle cx="444.2" cy="110.6" r="2.5"/><circle cx="445.2" cy="189.3" r="2.5"/><circle cx="424.0" cy="108.1" r="2.5"/><circle cx="440.3" cy="152.5" r="2.5"/><circle cx="450.1" cy="145.3" r="2.5"/><circle cx="431.1" cy="169.0" r="2.5"/><circle cx="447.1" cy="144.2" r="2.5"/><circle cx="437.5" cy="195.0" r="2.5"/><circle cx="452.0" cy="108.4" r="2.5"/><circle cx="427.8" cy="167.2" r="2.5"/><circle cx="445.6" cy="142.1" r="2.5"/><circle cx="425.6" cy="175.3" r="2.5"/><circle cx="460.8" cy="102.0" r="2.5"/><circle cx="429.8" cy="181.8" r="2.5"/><circle cx="426.4" cy="175.6" r="2.5"/><circle cx="437.9" cy="159.2" r="2.5"/><circle cx="447.4" cy="157.4" r="2.5"/><circle cx="444.1" cy="181.1" r="2.5"/><circle cx="435.7" cy="176.3" r="2.5"/><circle cx="450.3" cy="155.3" r="2.5"/><circle cx="455.9" cy="93.6" r="2.5"/><circle cx="446.0" cy="145.1" r="2.5"/><circle cx="435.2" cy="86.2" r="2.5"/><circle cx="435.3" cy="176.3" r="2.5"/><circle cx="441.2" cy="166.6" r="2.5"/><circle cx="449.5" cy="124.8" r="2.5"/><circle cx="434.5" cy="183.1" r="2.5"/><circle cx="436.6" cy="182.9" r="2.5"/><circle cx="441.4" cy="178.0" r="2.5"/><circle cx="455.4" cy="119.0" r="2.5"/><circle cx="450.7" cy="160.4" r="2.5"/><circle cx="449.6" cy="151.1" r="2.5"/><circle cx="454.2" cy="128.0" r="2.5"/><circle cx="427.8" cy="181.7" r="2.5"/><circle cx="443.3" cy="154.2" r="2.5"/><circle cx="438.3" cy="181.8" r="2.5"/><circle cx="440.5" cy="192.0" r="2.5"/><circle cx="430.8" cy="180.7" r="2.5"/><circle cx="434.9" cy="136.7" r="2.5"/><circle cx="449.0" cy="101.2" r="2.5"/><circle cx="432.0" cy="176.9" r="2.5"/><circle cx="463.7" cy="122.8" r="2.5"/><circle cx="449.6" cy="122.5" r="2.5"/><circle cx="440.3" cy="111.5" r="2.5"/><circle cx="440.2" cy="158.6" r="2.5"/><circle cx="457.1" cy="135.3" r="2.5"/><circle cx="433.3" cy="193.7" r="2.5"/><circle cx="447.3" cy="161.1" r="2.5"/><circle cx="434.3" cy="125.5" r="2.5"/><circle cx="455.9" cy="146.8" r="2.5"/><circle cx="427.7" cy="174.2" r="2.5"/><circle cx="428.6" cy="156.5" r="2.5"/><circle cx="447.4" cy="172.7" r="2.5"/><circle cx="444.1" cy="148.0" r="2.5"/><circle cx="448.7" cy="93.7" r="2.5"/><circle cx="434.1" cy="156.7" r="2.5"/><circle cx="442.4" cy="152.4" r="2.5"/><circle cx="462.5" cy="124.5" r="2.5"/><circle cx="442.5" cy="150.7" r="2.5"/><circle cx="441.5" cy="97.5" r="2.5"/><circle cx="430.3" cy="165.2" r="2.5"/><circle cx="440.1" cy="149.1" r="2.5"/><circle cx="437.7" cy="187.9" r="2.5"/><circle cx="436.4" cy="135.2" r="2.5"/><circle cx="425.3" cy="172.9" r="2.5"/><circle cx="435.0" cy="181.5" r="2.5"/><circle cx="434.5" cy="166.3" r="2.5"/><circle cx="426.8" cy="177.5" r="2.5"/><circle cx="442.9" cy="166.2" r="2.5"/><circle cx="451.3" cy="126.8" r="2.5"/><circle cx="442.3" cy="138.0" r="2.5"/><circle cx="450.3" cy="152.7" r="2.5"/><circle cx="442.0" cy="167.1" r="2.5"/><circle cx="438.4" cy="168.7" r="2.5"/><circle cx="459.1" cy="102.7" r="2.5"/><circle cx="431.7" cy="191.1" r="2.5"/><circle cx="446.8" cy="157.9" r="2.5"/><circle cx="462.0" cy="121.2" r="2.5"/><circle cx="449.6" cy="134.1" r="2.5"/><circle cx="444.6" cy="168.3" r="2.5"/><circle cx="450.1" cy="147.6" r="2.5"/><circle cx="440.7" cy="154.1" r="2.5"/><circle cx="473.4" cy="90.0" r="2.5"/><circle cx="433.2" cy="151.7" r="2.5"/><circle cx="465.5" cy="105.3" r="2.5"/><circle cx="427.1" cy="101.2" r="2.5"/><circle cx="437.2" cy="145.5" r="2.5"/><circle cx="446.7" cy="148.6" r="2.5"/><circle cx="435.3" cy="164.5" r="2.5"/><circle cx="437.3" cy="170.1" r="2.5"/><circle cx="465.0" cy="96.9" r="2.5"/><circle cx="427.7" cy="181.5" r="2.5"/><circle cx="462.0" cy="117.8" r="2.5"/><circle cx="444.8" cy="185.5" r="2.5"/><circle cx="467.8" cy="111.2" r="2.5"/><circle cx="442.5" cy="193.7" r="2.5"/><circle cx="443.3" cy="92.5" r="2.5"/><circle cx="456.3" cy="128.3" r="2.5"/><circle cx="439.7" cy="162.8" r="2.5"/><circle cx="457.1" cy="57.2" r="2.5"/><circle cx="446.1" cy="160.5" r="2.5"/><circle cx="436.5" cy="185.5" r="2.5"/><circle cx="452.7" cy="144.9" r="2.5"/><circle cx="436.1" cy="164.4" r="2.5"/><circle cx="433.6" cy="174.9" r="2.5"/><circle cx="445.4" cy="151.1" r="2.5"/><circle cx="459.0" cy="119.3" r="2.5"/><circle cx="440.5" cy="170.9" r="2.5"/><circle cx="425.0" cy="151.7" r="2.5"/><circle cx="449.7" cy="178.0" r="2.5"/><circle cx="456.5" cy="65.0" r="2.5"/><circle cx="445.2" cy="124.0" r="2.5"/><circle cx="441.2" cy="152.0" r="2.5"/><circle cx="434.0" cy="181.3" r="2.5"/><circle cx="435.1" cy="182.9" r="2.5"/><circle cx="440.3" cy="204.7" r="2.5"/><circle cx="438.2" cy="118.4" r="2.5"/><circle cx="428.7" cy="177.4" r="2.5"/><circle cx="458.6" cy="93.3" r="2.5"/><circle cx="455.1" cy="155.4" r="2.5"/><circle cx="436.0" cy="150.8" r="2.5"/><circle cx="439.8" cy="183.3" r="2.5"/><circle cx="440.8" cy="192.5" r="2.5"/><circle cx="461.2" cy="103.2" r="2.5"/><circle cx="454.8" cy="92.5" r="2.5"/><circle cx="448.4" cy="76.2" r="2.5"/><circle cx="460.4" cy="152.6" r="2.5"/><circle cx="431.7" cy="170.6" r="2.5"/><circle cx="440.6" cy="161.9" r="2.5"/><circle cx="429.8" cy="151.0" r="2.5"/><circle cx="434.5" cy="157.4" r="2.5"/><circle cx="438.8" cy="191.0" r="2.5"/><circle cx="445.1" cy="121.1" r="2.5"/><circle cx="446.6" cy="152.7" r="2.5"/><circle cx="437.4" cy="137.1" r="2.5"/><circle cx="444.6" cy="169.7" r="2.5"/><circle cx="446.6" cy="153.9" r="2.5"/><circle cx="455.0" cy="175.8" r="2.5"/><circle cx="448.6" cy="170.7" r="2.5"/><circle cx="467.8" cy="108.2" r="2.5"/><circle cx="432.5" cy="133.0" r="2.5"/><circle cx="455.5" cy="172.4" r="2.5"/><circle cx="449.8" cy="129.6" r="2.5"/><circle cx="428.5" cy="178.6" r="2.5"/><circle cx="448.3" cy="172.6" r="2.5"/><circle cx="460.0" cy="147.6" r="2.5"/><circle cx="435.0" cy="183.1" r="2.5"/><circle cx="446.1" cy="179.6" r="2.5"/><circle cx="440.3" cy="169.0" r="2.5"/><circle cx="427.9" cy="176.1" r="2.5"/><circle cx="442.9" cy="128.0" r="2.5"/><circle cx="442.5" cy="164.7" r="2.5"/><circle cx="473.4" cy="87.5" r="2.5"/><circle cx="426.6" cy="171.2" r="2.5"/><circle cx="440.1" cy="170.9" r="2.5"/><circle cx="442.8" cy="177.4" r="2.5"/><circle cx="447.8" cy="134.1" r="2.5"/><circle cx="442.2" cy="153.3" r="2.5"/><circle cx="439.5" cy="180.6" r="2.5"/><circle cx="438.9" cy="155.0" r="2.5"/><circle cx="438.1" cy="173.5" r="2.5"/><circle cx="457.5" cy="143.0" r="2.5"/><circle cx="451.2" cy="136.4" r="2.5"/><circle cx="455.7" cy="146.1" r="2.5"/><circle cx="431.7" cy="197.5" r="2.5"/><circle cx="451.0" cy="154.2" r="2.5"/><circle cx="430.1" cy="170.4" r="2.5"/><circle cx="428.1" cy="188.2" r="2.5"/><circle cx="445.8" cy="98.2" r="2.5"/><circle cx="434.4" cy="190.5" r="2.5"/><circle cx="443.9" cy="119.3" r="2.5"/><circle cx="451.6" cy="154.9" r="2.5"/><circle cx="437.7" cy="137.9" r="2.5"/><circle cx="439.9" cy="148.7" r="2.5"/><circle cx="442.7" cy="178.5" r="2.5"/><circle cx="442.0" cy="199.2" r="2.5"/><circle cx="445.7" cy="122.3" r="2.5"/><circle cx="445.2" cy="91.2" r="2.5"/><circle cx="432.6" cy="141.6" r="2.5"/><circle cx="444.8" cy="191.1" r="2.5"/><circle cx="440.2" cy="178.6" r="2.5"/><circle cx="428.3" cy="180.9" r="2.5"/><circle cx="436.7" cy="198.3" r="2.5"/><circle cx="456.1" cy="99.3" r="2.5"/><circle cx="444.3" cy="117.2" r="2.5"/><circle cx="446.5" cy="139.3" r="2.5"/><circle cx="458.7" cy="106.8" r="2.5"/><circle cx="432.1" cy="188.1" r="2.5"/><circle cx="451.4" cy="118.5" r="2.5"/><circle cx="438.2" cy="173.7" r="2.5"/><circle cx="459.0" cy="131.6" r="2.5"/><circle cx="435.9" cy="167.9" r="2.5"/><circle cx="445.6" cy="178.7" r="2.5"/><circle cx="434.3" cy="134.6" r="2.5"/><circle cx="441.3" cy="171.5" r="2.5"/><circle cx="440.6" cy="190.5" r="2.5"/><circle cx="431.4" cy="187.7" r="2.5"/><circle cx="451.7" cy="129.3" r="2.5"/><circle cx="438.5" cy="174.6" r="2.5"/><circle cx="443.9" cy="179.8" r="2.5"/><circle cx="455.0" cy="94.3" r="2.5"/><circle cx="432.1" cy="113.8" r="2.5"/><circle cx="443.5" cy="157.6" r="2.5"/><circle cx="453.3" cy="121.9" r="2.5"/><circle cx="437.4" cy="172.5" r="2.5"/><circle cx="445.2" cy="113.7" r="2.5"/><circle cx="439.1" cy="169.6" r="2.5"/><circle cx="435.3" cy="167.8" r="2.5"/><circle cx="437.8" cy="175.6" r="2.5"/><circle cx="435.1" cy="155.1" r="2.5"/><circle cx="457.5" cy="143.5" r="2.5"/><circle cx="457.3" cy="144.4" r="2.5"/><circle cx="444.9" cy="162.1" r="2.5"/><circle cx="438.0" cy="167.5" r="2.5"/><circle cx="433.6" cy="192.6" r="2.5"/><circle cx="433.4" cy="170.5" r="2.5"/><circle cx="435.0" cy="164.3" r="2.5"/><circle cx="443.6" cy="148.2" r="2.5"/><circle cx="452.4" cy="119.4" r="2.5"/><circle cx="434.9" cy="153.1" r="2.5"/><circle cx="446.9" cy="140.0" r="2.5"/><circle cx="429.1" cy="175.4" r="2.5"/><circle cx="453.8" cy="42.5" r="2.5"/><circle cx="453.6" cy="131.8" r="2.5"/><circle cx="444.7" cy="185.4" r="2.5"/><circle cx="442.9" cy="175.3" r="2.5"/><circle cx="435.2" cy="85.6" r="2.5"/><circle cx="425.9" cy="105.6" r="2.5"/><circle cx="441.9" cy="168.3" r="2.5"/><circle cx="432.4" cy="132.4" r="2.5"/><circle cx="447.6" cy="174.8" r="2.5"/><circle cx="439.6" cy="77.5" r="2.5"/><circle cx="423.7" cy="155.8" r="2.5"/><circle cx="441.9" cy="152.7" r="2.5"/><circle cx="449.6" cy="136.3" r="2.5"/><circle cx="442.4" cy="145.6" r="2.5"/><circle cx="453.4" cy="164.3" r="2.5"/><circle cx="441.8" cy="152.5" r="2.5"/><circle cx="440.6" cy="170.5" r="2.5"/><circle cx="437.5" cy="133.3" r="2.5"/><circle cx="442.8" cy="167.2" r="2.5"/><circle cx="443.6" cy="179.3" r="2.5"/><circle cx="457.5" cy="133.6" r="2.5"/><circle cx="463.8" cy="122.3" r="2.5"/><circle cx="436.4" cy="115.2" r="2.5"/><circle cx="437.8" cy="100.0" r="2.5"/><circle cx="441.9" cy="122.9" r="2.5"/><circle cx="457.9" cy="123.3" r="2.5"/><circle cx="457.8" cy="97.5" r="2.5"/><circle cx="458.0" cy="60.0" r="2.5"/><circle cx="448.5" cy="166.8" r="2.5"/><circle cx="440.4" cy="162.3" r="2.5"/><circle cx="441.0" cy="127.6" r="2.5"/><circle cx="430.0" cy="190.0" r="2.5"/><circle cx="447.1" cy="146.6" r="2.5"/><circle cx="450.2" cy="161.4" r="2.5"/><circle cx="452.3" cy="159.1" r="2.5"/><circle cx="458.1" cy="138.6" r="2.5"/><circle cx="425.1" cy="169.0" r="2.5"/><circle cx="428.4" cy="150.7" r="2.5"/><circle cx="443.5" cy="173.4" r="2.5"/><circle cx="454.9" cy="169.6" r="2.5"/><circle cx="455.7" cy="134.0" r="2.5"/><circle cx="429.7" cy="182.5" r="2.5"/><circle cx="437.9" cy="163.5" r="2.5"/><circle cx="442.9" cy="154.6" r="2.5"/><circle cx="443.9" cy="168.7" r="2.5"/><circle cx="429.9" cy="186.1" r="2.5"/><circle cx="447.1" cy="96.9" r="2.5"/><circle cx="432.6" cy="190.9" r="2.5"/><circle cx="454.4" cy="143.0" r="2.5"/><circle cx="436.4" cy="190.1" r="2.5"/><circle cx="441.2" cy="177.5" r="2.5"/><circle cx="442.9" cy="153.8" r="2.5"/><circle cx="441.5" cy="67.5" r="2.5"/><circle cx="448.6" cy="117.0" r="2.5"/><circle cx="442.7" cy="173.2" r="2.5"/><circle cx="442.9" cy="172.1" r="2.5"/><circle cx="437.0" cy="162.5" r="2.5"/><circle cx="435.2" cy="171.2" r="2.5"/><circle cx="453.1" cy="131.7" r="2.5"/><circle cx="448.9" cy="127.1" r="2.5"/><circle cx="441.1" cy="177.9" r="2.5"/><circle cx="443.1" cy="134.1" r="2.5"/><circle cx="437.2" cy="174.9" r="2.5"/><circle cx="434.6" cy="171.4" r="2.5"/><circle cx="440.2" cy="148.1" r="2.5"/><circle cx="443.1" cy="153.3" r="2.5"/><circle cx="449.8" cy="152.3" r="2.5"/><circle cx="443.8" cy="150.5" r="2.5"/><circle cx="449.6" cy="80.0" r="2.5"/><circle cx="442.0" cy="154.1" r="2.5"/><circle cx="456.5" cy="90.0" r="2.5"/><circle cx="450.4" cy="141.9" r="2.5"/><circle cx="432.9" cy="182.1" r="2.5"/><circle cx="442.3" cy="125.5" r="2.5"/><circle cx="451.0" cy="164.6" r="2.5"/><circle cx="465.3" cy="114.2" r="2.5"/><circle cx="447.2" cy="152.6" r="2.5"/><circle cx="458.5" cy="96.1" r="2.5"/><circle cx="442.3" cy="172.9" r="2.5"/><circle cx="457.2" cy="109.9" r="2.5"/><circle cx="431.6" cy="176.3" r="2.5"/><circle cx="456.8" cy="95.8" r="2.5"/><circle cx="438.7" cy="200.0" r="2.5"/><circle cx="442.6" cy="165.1" r="2.5"/><circle cx="445.5" cy="160.2" r="2.5"/><circle cx="436.0" cy="164.2" r="2.5"/><circle cx="417.0" cy="164.7" r="2.5"/><circle cx="443.8" cy="148.7" r="2.5"/><circle cx="437.8" cy="140.4" r="2.5"/><circle cx="447.5" cy="156.2" r="2.5"/><circle cx="453.6" cy="114.0" r="2.5"/><circle cx="438.9" cy="137.4" r="2.5"/><circle cx="438.9" cy="151.9" r="2.5"/><circle cx="430.7" cy="163.0" r="2.5"/><circle cx="466.8" cy="106.3" r="2.5"/><circle cx="442.9" cy="161.7" r="2.5"/><circle cx="437.4" cy="174.5" r="2.5"/><circle cx="459.3" cy="164.8" r="2.5"/><circle cx="440.4" cy="171.1" r="2.5"/><circle cx="438.7" cy="170.6" r="2.5"/><circle cx="440.6" cy="175.5" r="2.5"/><circle cx="445.2" cy="90.0" r="2.5"/><circle cx="443.7" cy="185.8" r="2.5"/><circle cx="450.9" cy="162.0" r="2.5"/><circle cx="453.0" cy="150.1" r="2.5"/><circle cx="441.3" cy="184.4" r="2.5"/><circle cx="437.2" cy="190.8" r="2.5"/><circle cx="445.9" cy="110.0" r="2.5"/><circle cx="441.4" cy="135.0" r="2.5"/><circle cx="441.5" cy="177.7" r="2.5"/><circle cx="458.1" cy="150.0" r="2.5"/><circle cx="431.6" cy="127.8" r="2.5"/><circle cx="455.9" cy="123.1" r="2.5"/><circle cx="448.4" cy="168.2" r="2.5"/><circle cx="447.1" cy="138.7" r="2.5"/><circle cx="464.9" cy="121.5" r="2.5"/><circle cx="440.6" cy="188.0" r="2.5"/><circle cx="440.8" cy="158.2" r="2.5"/><circle cx="441.3" cy="175.6" r="2.5"/><circle cx="452.7" cy="99.2" r="2.5"/><circle cx="433.0" cy="188.6" r="2.5"/><circle cx="453.5" cy="135.0" r="2.5"/><circle cx="444.7" cy="156.6" r="2.5"/><circle cx="428.9" cy="186.3" r="2.5"/><circle cx="438.2" cy="158.1" r="2.5"/><circle cx="427.4" cy="158.5" r="2.5"/><circle cx="442.0" cy="188.8" r="2.5"/><circle cx="458.9" cy="155.2" r="2.5"/><circle cx="452.1" cy="171.2" r="2.5"/><circle cx="438.3" cy="167.0" r="2.5"/><circle cx="426.4" cy="150.7" r="2.5"/><circle cx="450.5" cy="131.5" r="2.5"/><circle cx="436.0" cy="142.1" r="2.5"/><circle cx="462.8" cy="65.2" r="2.5"/><circle cx="432.2" cy="158.2" r="2.5"/><circle cx="452.8" cy="130.2" r="2.5"/><circle cx="438.3" cy="97.5" r="2.5"/><circle cx="430.5" cy="189.0" r="2.5"/><circle cx="438.4" cy="155.6" r="2.5"/><circle cx="439.9" cy="148.7" r="2.5"/><circle cx="442.1" cy="154.4" r="2.5"/><circle cx="451.6" cy="142.2" r="2.5"/><circle cx="432.5" cy="174.8" r="2.5"/><circle cx="454.0" cy="132.7" r="2.5"/><circle cx="446.3" cy="152.8" r="2.5"/><circle cx="433.2" cy="190.4" r="2.5"/><circle cx="444.0" cy="65.6" r="2.5"/><circle cx="438.4" cy="145.9" r="2.5"/><circle cx="460.2" cy="87.5" r="2.5"/><circle cx="449.2" cy="119.8" r="2.5"/><circle cx="430.9" cy="91.9" r="2.5"/><circle cx="446.1" cy="110.9" r="2.5"/><circle cx="444.9" cy="171.7" r="2.5"/><circle cx="443.7" cy="171.1" r="2.5"/><circle cx="443.0" cy="165.8" r="2.5"/><circle cx="459.6" cy="78.8" r="2.5"/><circle cx="443.4" cy="157.9" r="2.5"/><circle cx="438.9" cy="169.6" r="2.5"/><circle cx="442.2" cy="183.0" r="2.5"/><circle cx="462.2" cy="165.8" r="2.5"/><circle cx="436.7" cy="144.7" r="2.5"/><circle cx="426.8" cy="169.0" r="2.5"/><circle cx="464.9" cy="93.8" r="2.5"/><circle cx="444.0" cy="142.7" r="2.5"/><circle cx="443.1" cy="160.2" r="2.5"/><circle cx="452.5" cy="56.2" r="2.5"/><circle cx="461.0" cy="133.6" r="2.5"/><circle cx="434.5" cy="192.5" r="2.5"/><circle cx="433.3" cy="176.5" r="2.5"/><circle cx="448.9" cy="113.9" r="2.5"/><circle cx="457.6" cy="112.3" r="2.5"/><circle cx="459.4" cy="158.9" r="2.5"/><circle cx="442.7" cy="160.9" r="2.5"/><circle cx="438.9" cy="178.4" r="2.5"/><circle cx="466.5" cy="88.8" r="2.5"/><circle cx="465.9" cy="94.6" r="2.5"/><circle cx="438.3" cy="162.5" r="2.5"/><circle cx="440.3" cy="162.6" r="2.5"/><circle cx="429.7" cy="182.6" r="2.5"/><circle cx="436.6" cy="156.2" r="2.5"/><circle cx="471.5" cy="105.0" r="2.5"/><circle cx="432.5" cy="173.8" r="2.5"/><circle cx="450.7" cy="132.8" r="2.5"/><circle cx="439.3" cy="176.5" r="2.5"/><circle cx="440.9" cy="165.4" r="2.5"/><circle cx="429.6" cy="158.5" r="2.5"/><circle cx="448.4" cy="134.1" r="2.5"/><circle cx="451.0" cy="94.3" r="2.5"/><circle cx="441.9" cy="127.2" r="2.5"/><circle cx="467.5" cy="101.8" r="2.5"/><circle cx="445.8" cy="190.0" r="2.5"/><circle cx="463.5" cy="107.0" r="2.5"/><circle cx="442.4" cy="149.8" r="2.5"/><circle cx="438.3" cy="168.0" r="2.5"/><circle cx="446.5" cy="163.5" r="2.5"/><circle cx="464.0" cy="92.5" r="2.5"/><circle cx="453.9" cy="141.0" r="2.5"/><circle cx="444.7" cy="141.6" r="2.5"/><circle cx="440.9" cy="119.6" r="2.5"/><circle cx="435.3" cy="123.8" r="2.5"/><circle cx="441.3" cy="157.0" r="2.5"/><circle cx="464.4" cy="94.4" r="2.5"/><circle cx="460.6" cy="162.7" r="2.5"/><circle cx="435.1" cy="157.6" r="2.5"/><circle cx="440.1" cy="174.3" r="2.5"/><circle cx="469.4" cy="92.6" r="2.5"/><circle cx="469.0" cy="97.5" r="2.5"/><circle cx="452.6" cy="163.4" r="2.5"/><circle cx="441.0" cy="177.7" r="2.5"/><circle cx="454.0" cy="76.2" r="2.5"/><circle cx="441.3" cy="162.2" r="2.5"/><circle cx="442.3" cy="176.1" r="2.5"/><circle cx="451.3" cy="124.3" r="2.5"/><circle cx="464.2" cy="103.5" r="2.5"/><circle cx="430.3" cy="150.3" r="2.5"/><circle cx="437.0" cy="172.0" r="2.5"/><circle cx="433.4" cy="93.1" r="2.5"/><circle cx="444.2" cy="150.1" r="2.5"/><circle cx="463.4" cy="96.3" r="2.5"/><circle cx="474.0" cy="80.6" r="2.5"/><circle cx="451.5" cy="157.0" r="2.5"/><circle cx="444.3" cy="137.3" r="2.5"/><circle cx="439.8" cy="118.6" r="2.5"/><circle cx="452.9" cy="123.3" r="2.5"/><circle cx="467.3" cy="109.0" r="2.5"/><circle cx="436.8" cy="176.3" r="2.5"/><circle cx="446.5" cy="62.8" r="2.5"/><circle cx="441.4" cy="188.1" r="2.5"/><circle cx="450.1" cy="143.9" r="2.5"/><circle cx="438.9" cy="159.8" r="2.5"/><circle cx="425.1" cy="154.5" r="2.5"/><circle cx="447.8" cy="127.9" r="2.5"/><circle cx="434.2" cy="167.5" r="2.5"/><circle cx="439.8" cy="185.5" r="2.5"/><circle cx="431.8" cy="182.5" r="2.5"/><circle cx="450.7" cy="150.7" r="2.5"/><circle cx="449.5" cy="146.9" r="2.5"/><circle cx="462.9" cy="95.0" r="2.5"/><circle cx="458.8" cy="51.2" r="2.5"/><circle cx="445.8" cy="152.9" r="2.5"/><circle cx="443.1" cy="158.8" r="2.5"/><circle cx="438.5" cy="177.5" r="2.5"/><circle cx="425.7" cy="183.5" r="2.5"/><circle cx="454.3" cy="162.4" r="2.5"/><circle cx="436.6" cy="134.2" r="2.5"/><circle cx="439.0" cy="161.0" r="2.5"/><circle cx="435.3" cy="166.7" r="2.5"/><circle cx="454.7" cy="157.8" r="2.5"/><circle cx="449.4" cy="147.3" r="2.5"/><circle cx="427.5" cy="195.8" r="2.5"/><circle cx="442.6" cy="149.3" r="2.5"/><circle cx="462.4" cy="109.6" r="2.5"/><circle cx="445.5" cy="172.2" r="2.5"/><circle cx="441.2" cy="154.1" r="2.5"/><circle cx="454.5" cy="112.7" r="2.5"/><circle cx="451.9" cy="132.9" r="2.5"/><circle cx="438.0" cy="182.9" r="2.5"/><circle cx="445.1" cy="125.8" r="2.5"/><circle cx="433.4" cy="184.1" r="2.5"/><circle cx="442.1" cy="187.9" r="2.5"/><circle cx="441.6" cy="172.1" r="2.5"/><circle cx="448.0" cy="156.6" r="2.5"/><circle cx="444.0" cy="188.2" r="2.5"/><circle cx="443.0" cy="182.6" r="2.5"/><circle cx="447.3" cy="155.3" r="2.5"/><circle cx="444.7" cy="122.1" r="2.5"/><circle cx="429.2" cy="158.9" r="2.5"/><circle cx="448.2" cy="168.0" r="2.5"/><circle cx="440.7" cy="163.3" r="2.5"/><circle cx="445.2" cy="144.7" r="2.5"/><circle cx="456.0" cy="152.4" r="2.5"/><circle cx="432.3" cy="161.5" r="2.5"/><circle cx="450.6" cy="132.7" r="2.5"/><circle cx="435.0" cy="191.7" r="2.5"/><circle cx="444.6" cy="80.6" r="2.5"/><circle cx="469.0" cy="67.5" r="2.5"/><circle cx="448.4" cy="43.1" r="2.5"/><circle cx="441.9" cy="156.2" r="2.5"/><circle cx="445.5" cy="145.8" r="2.5"/><circle cx="445.4" cy="178.9" r="2.5"/><circle cx="460.4" cy="122.5" r="2.5"/><circle cx="443.4" cy="171.1" r="2.5"/><circle cx="444.6" cy="106.9" r="2.5"/><circle cx="436.7" cy="131.6" r="2.5"/><circle cx="435.4" cy="186.3" r="2.5"/><circle cx="458.2" cy="114.3" r="2.5"/><circle cx="443.4" cy="185.2" r="2.5"/><circle cx="448.7" cy="177.0" r="2.5"/><circle cx="452.8" cy="96.2" r="2.5"/><circle cx="436.1" cy="188.0" r="2.5"/><circle cx="435.9" cy="166.5" r="2.5"/><circle cx="436.3" cy="187.3" r="2.5"/><circle cx="429.2" cy="177.3" r="2.5"/><circle cx="443.0" cy="191.4" r="2.5"/><circle cx="446.3" cy="144.2" r="2.5"/><circle cx="433.9" cy="145.5" r="2.5"/><circle cx="441.4" cy="155.4" r="2.5"/><circle cx="446.4" cy="108.9" r="2.5"/><circle cx="447.8" cy="125.0" r="2.5"/><circle cx="447.7" cy="114.2" r="2.5"/><circle cx="443.9" cy="147.6" r="2.5"/><circle cx="440.5" cy="161.3" r="2.5"/><circle cx="434.0" cy="172.5" r="2.5"/><circle cx="439.6" cy="171.0" r="2.5"/><circle cx="465.2" cy="116.2" r="2.5"/><circle cx="444.6" cy="176.2" r="2.5"/><circle cx="445.0" cy="171.8" r="2.5"/><circle cx="434.9" cy="166.7" r="2.5"/><circle cx="425.6" cy="181.2" r="2.5"/><circle cx="438.9" cy="134.6" r="2.5"/><circle cx="459.6" cy="96.3" r="2.5"/><circle cx="447.7" cy="151.9" r="2.5"/><circle cx="447.9" cy="173.0" r="2.5"/><circle cx="430.0" cy="97.5" r="2.5"/><circle cx="449.7" cy="147.1" r="2.5"/><circle cx="465.0" cy="117.5" r="2.5"/><circle cx="440.9" cy="180.1" r="2.5"/><circle cx="436.1" cy="171.9" r="2.5"/><circle cx="436.9" cy="134.7" r="2.5"/><circle cx="437.0" cy="179.8" r="2.5"/><circle cx="427.6" cy="180.7" r="2.5"/><circle cx="441.1" cy="157.8" r="2.5"/><circle cx="438.2" cy="159.9" r="2.5"/><circle cx="458.0" cy="121.6" r="2.5"/><circle cx="462.8" cy="127.8" r="2.5"/><circle cx="441.2" cy="187.8" r="2.5"/><circle cx="453.4" cy="174.5" r="2.5"/><circle cx="433.3" cy="95.0" r="2.5"/><circle cx="449.1" cy="163.3" r="2.5"/><circle cx="424.7" cy="107.5" r="2.5"/><circle cx="451.6" cy="155.0" r="2.5"/><circle cx="440.8" cy="172.7" r="2.5"/><circle cx="438.5" cy="159.9" r="2.5"/><circle cx="456.5" cy="79.4" r="2.5"/><circle cx="441.7" cy="164.7" r="2.5"/><circle cx="452.3" cy="167.6" r="2.5"/><circle cx="446.0" cy="153.4" r="2.5"/><circle cx="437.4" cy="160.6" r="2.5"/><circle cx="459.3" cy="143.1" r="2.5"/><circle cx="443.4" cy="153.3" r="2.5"/><circle cx="467.8" cy="81.2" r="2.5"/><circle cx="454.5" cy="118.1" r="2.5"/><circle cx="438.0" cy="174.1" r="2.5"/><circle cx="458.2" cy="138.4" r="2.5"/><circle cx="440.8" cy="187.2" r="2.5"/><circle cx="442.6" cy="173.1" r="2.5"/><circle cx="443.5" cy="137.2" r="2.5"/><circle cx="447.4" cy="160.1" r="2.5"/><circle cx="454.7" cy="111.8" r="2.5"/><circle cx="442.4" cy="138.5" r="2.5"/><circle cx="445.6" cy="185.2" r="2.5"/><circle cx="442.4" cy="152.1" r="2.5"/><circle cx="433.3" cy="181.8" r="2.5"/><circle cx="445.6" cy="146.4" r="2.5"/><circle cx="436.0" cy="140.1" r="2.5"/><circle cx="435.3" cy="139.9" r="2.5"/><circle cx="464.0" cy="94.8" r="2.5"/><circle cx="467.8" cy="112.1" r="2.5"/><circle cx="439.5" cy="175.3" r="2.5"/><circle cx="441.3" cy="190.6" r="2.5"/><circle cx="429.0" cy="179.9" r="2.5"/><circle cx="441.5" cy="148.3" r="2.5"/><circle cx="433.6" cy="141.5" r="2.5"/><circle cx="463.1" cy="143.2" r="2.5"/><circle cx="430.3" cy="164.2" r="2.5"/><circle cx="463.2" cy="127.7" r="2.5"/><circle cx="429.6" cy="118.8" r="2.5"/><circle cx="442.8" cy="85.0" r="2.5"/><circle cx="433.9" cy="191.1" r="2.5"/><circle cx="438.8" cy="158.2" r="2.5"/><circle cx="443.5" cy="185.0" r="2.5"/><circle cx="451.0" cy="127.5" r="2.5"/><circle cx="438.6" cy="160.0" r="2.5"/><circle cx="443.4" cy="160.5" r="2.5"/><circle cx="433.6" cy="147.8" r="2.5"/><circle cx="447.8" cy="107.0" r="2.5"/><circle cx="452.0" cy="136.6" r="2.5"/><circle cx="454.6" cy="143.3" r="2.5"/><circle cx="429.9" cy="177.5" r="2.5"/><circle cx="446.1" cy="166.4" r="2.5"/><circle cx="449.9" cy="150.3" r="2.5"/></g>
<path d="M417.3,135.2C419.1,138.7 424.9,153.5 428.3,156.2C431.7,158.9 435.1,152.6 437.5,151.2C439.9,149.8 441.0,149.9 442.5,147.8C444.0,145.7 444.9,142.4 446.7,138.7C448.5,134.9 451.1,130.0 453.3,125.3C455.5,120.6 457.8,115.3 460.0,110.3C462.2,105.3 464.9,99.9 466.7,95.3C468.5,90.7 469.6,88.3 470.8,82.5C472.0,76.7 473.3,63.9 473.8,60.2L473.8,87.2C473.3,88.4 472.0,92.2 470.8,94.5C469.6,96.8 468.5,97.7 466.7,101.3C464.9,104.9 462.2,111.3 460.0,116.3C457.8,121.3 455.5,126.6 453.3,131.3C451.1,136.0 448.5,140.9 446.7,144.7C444.9,148.4 444.0,151.7 442.5,153.8C441.0,155.9 439.9,155.8 437.5,157.2C435.1,158.6 431.7,156.2 428.3,162.2C424.9,168.2 419.1,188.0 417.3,193.2Z" fill="#999" fill-opacity="0.4"/>
<path d="M417.3,164.2C419.1,163.4 424.9,160.9 428.3,159.2C431.7,157.5 435.1,155.6 437.5,154.2C439.9,152.8 441.0,152.9 442.5,150.8C444.0,148.7 444.9,145.4 446.7,141.7C448.5,137.9 451.1,133.0 453.3,128.3C455.5,123.6 457.8,118.3 460.0,113.3C462.2,108.3 464.9,102.4 466.7,98.3C468.5,94.2 469.6,92.5 470.8,88.5C472.0,84.5 473.3,76.6 473.8,74.2" fill="none" stroke="#dcc01a" stroke-width="2.7"/>
<g stroke="#ececec" stroke-width="0.5"><line x1="522.1" x2="522.1" y1="35" y2="212.5"/><line x1="535.3" x2="535.3" y1="35" y2="212.5"/><line x1="548.5" x2="548.5" y1="35" y2="212.5"/><line x1="561.7" x2="561.7" y1="35" y2="212.5"/><line x1="510" x2="571.3" y1="50.4" y2="50.4"/><line x1="510" x2="571.3" y1="95.7" y2="95.7"/><line x1="510" x2="571.3" y1="140.9" y2="140.9"/><line x1="510" x2="571.3" y1="186.2" y2="186.2"/></g><g stroke="#e8e8e8" stroke-width="0.85"><line x1="515.5" x2="515.5" y1="35" y2="212.5"/><line x1="528.7" x2="528.7" y1="35" y2="212.5"/><line x1="541.9" x2="541.9" y1="35" y2="212.5"/><line x1="555.1" x2="555.1" y1="35" y2="212.5"/><line x1="568.3" x2="568.3" y1="35" y2="212.5"/><line x1="510" x2="571.3" y1="73.0" y2="73.0"/><line x1="510" x2="571.3" y1="118.3" y2="118.3"/><line x1="510" x2="571.3" y1="163.6" y2="163.6"/><line x1="510" x2="571.3" y1="208.9" y2="208.9"/></g><text x="540.8" y="28.8" font-size="10.6" text-anchor="middle" fill="#1a1a1a">Americas</text><g font-size="9.8" fill="#4d4d4d"><text x="504" y="76.4" text-anchor="end">10</text><text x="504" y="121.7" text-anchor="end">9</text><text x="504" y="167.0" text-anchor="end">8</text><text x="504" y="212.3" text-anchor="end">7</text><text x="515.5" y="226.4" text-anchor="middle">40</text><text x="528.7" y="226.4" text-anchor="middle">50</text><text x="541.9" y="226.4" text-anchor="middle">60</text><text x="555.1" y="226.4" text-anchor="middle">70</text><text x="568.3" y="226.4" text-anchor="middle">80</text></g>
<g fill="#86a528" fill-opacity="0.5" stroke="#86a528" stroke-opacity="0.5" stroke-width="0.95"><circle cx="526.7" cy="153.0" r="2.5"/><circle cx="548.4" cy="130.3" r="2.5"/><circle cx="548.9" cy="142.3" r="2.5"/><circle cx="558.8" cy="77.9" r="2.5"/><circle cx="537.5" cy="190.0" r="2.5"/><circle cx="561.7" cy="59.2" r="2.5"/><circle cx="522.9" cy="168.7" r="2.5"/><circle cx="544.2" cy="139.6" r="2.5"/><circle cx="564.6" cy="89.1" r="2.5"/><circle cx="547.8" cy="178.2" r="2.5"/><circle cx="555.8" cy="171.7" r="2.5"/><circle cx="555.3" cy="77.8" r="2.5"/><circle cx="532.7" cy="162.7" r="2.5"/><circle cx="559.5" cy="167.8" r="2.5"/><circle cx="555.8" cy="73.3" r="2.5"/><circle cx="548.8" cy="151.7" r="2.5"/><circle cx="563.5" cy="89.6" r="2.5"/><circle cx="524.0" cy="158.5" r="2.5"/><circle cx="542.7" cy="140.1" r="2.5"/><circle cx="553.7" cy="148.6" r="2.5"/><circle cx="559.2" cy="166.7" r="2.5"/><circle cx="519.9" cy="154.5" r="2.5"/><circle cx="558.0" cy="132.8" r="2.5"/><circle cx="542.9" cy="141.1" r="2.5"/><circle cx="535.1" cy="156.9" r="2.5"/><circle cx="528.5" cy="162.5" r="2.5"/><circle cx="558.8" cy="87.2" r="2.5"/><circle cx="567.1" cy="111.7" r="2.5"/><circle cx="551.1" cy="152.4" r="2.5"/><circle cx="518.7" cy="179.7" r="2.5"/><circle cx="530.3" cy="159.8" r="2.5"/><circle cx="562.4" cy="107.7" r="2.5"/><circle cx="565.8" cy="60.0" r="2.5"/><circle cx="527.5" cy="162.1" r="2.5"/><circle cx="533.3" cy="185.8" r="2.5"/><circle cx="561.0" cy="61.3" r="2.5"/><circle cx="529.3" cy="161.5" r="2.5"/><circle cx="556.6" cy="114.2" r="2.5"/><circle cx="546.4" cy="128.9" r="2.5"/><circle cx="525.2" cy="166.3" r="2.5"/><circle cx="512.5" cy="185.3" r="2.5"/><circle cx="538.2" cy="145.1" r="2.5"/><circle cx="562.8" cy="55.2" r="2.5"/><circle cx="551.8" cy="155.9" r="2.5"/><circle cx="553.5" cy="120.4" r="2.5"/><circle cx="560.4" cy="111.0" r="2.5"/><circle cx="538.6" cy="171.0" r="2.5"/><circle cx="549.5" cy="167.8" r="2.5"/><circle cx="551.3" cy="123.4" r="2.5"/><circle cx="547.1" cy="168.5" r="2.5"/><circle cx="528.2" cy="166.0" r="2.5"/><circle cx="547.7" cy="148.6" r="2.5"/><circle cx="564.3" cy="129.1" r="2.5"/><circle cx="539.2" cy="153.8" r="2.5"/><circle cx="539.3" cy="167.0" r="2.5"/><circle cx="547.2" cy="127.6" r="2.5"/><circle cx="557.0" cy="155.7" r="2.5"/><circle cx="554.4" cy="97.1" r="2.5"/><circle cx="555.5" cy="114.1" r="2.5"/><circle cx="526.5" cy="171.9" r="2.5"/><circle cx="552.8" cy="103.2" r="2.5"/><circle cx="531.6" cy="174.8" r="2.5"/><circle cx="526.5" cy="166.0" r="2.5"/><circle cx="542.2" cy="131.3" r="2.5"/><circle cx="565.6" cy="86.1" r="2.5"/><circle cx="525.7" cy="166.9" r="2.5"/><circle cx="565.0" cy="72.2" r="2.5"/><circle cx="517.5" cy="189.2" r="2.5"/><circle cx="560.0" cy="68.3" r="2.5"/><circle cx="563.9" cy="98.5" r="2.5"/><circle cx="534.8" cy="148.2" r="2.5"/><circle cx="561.7" cy="72.5" r="2.5"/><circle cx="555.7" cy="152.9" r="2.5"/><circle cx="565.5" cy="82.6" r="2.5"/><circle cx="548.8" cy="126.9" r="2.5"/><circle cx="547.4" cy="135.3" r="2.5"/><circle cx="548.2" cy="162.6" r="2.5"/><circle cx="524.9" cy="170.6" r="2.5"/><circle cx="540.8" cy="150.2" r="2.5"/><circle cx="552.4" cy="138.3" r="2.5"/><circle cx="561.8" cy="99.1" r="2.5"/><circle cx="539.2" cy="109.7" r="2.5"/><circle cx="550.8" cy="164.6" r="2.5"/><circle cx="541.7" cy="176.7" r="2.5"/><circle cx="528.6" cy="165.1" r="2.5"/><circle cx="558.1" cy="126.9" r="2.5"/><circle cx="526.5" cy="165.6" r="2.5"/><circle cx="558.2" cy="88.3" r="2.5"/><circle cx="561.7" cy="131.8" r="2.5"/><circle cx="559.2" cy="85.7" r="2.5"/><circle cx="548.3" cy="130.5" r="2.5"/><circle cx="552.4" cy="106.5" r="2.5"/><circle cx="548.2" cy="144.3" r="2.5"/><circle cx="537.4" cy="156.9" r="2.5"/><circle cx="560.4" cy="52.6" r="2.5"/><circle cx="555.8" cy="78.3" r="2.5"/><circle cx="558.2" cy="104.0" r="2.5"/><circle cx="558.5" cy="71.7" r="2.5"/><circle cx="527.0" cy="164.4" r="2.5"/><circle cx="551.9" cy="122.7" r="2.5"/><circle cx="518.3" cy="168.9" r="2.5"/><circle cx="565.4" cy="137.8" r="2.5"/><circle cx="546.3" cy="142.5" r="2.5"/><circle cx="547.6" cy="124.0" r="2.5"/><circle cx="521.7" cy="183.3" r="2.5"/><circle cx="535.0" cy="171.7" r="2.5"/><circle cx="534.9" cy="150.6" r="2.5"/><circle cx="549.4" cy="162.9" r="2.5"/><circle cx="558.4" cy="111.6" r="2.5"/><circle cx="549.1" cy="156.8" r="2.5"/><circle cx="542.5" cy="142.5" r="2.5"/><circle cx="553.5" cy="140.4" r="2.5"/><circle cx="556.5" cy="170.6" r="2.5"/><circle cx="545.7" cy="160.1" r="2.5"/><circle cx="564.3" cy="141.6" r="2.5"/><circle cx="554.7" cy="129.9" r="2.5"/><circle cx="519.2" cy="165.6" r="2.5"/><circle cx="552.5" cy="123.1" r="2.5"/><circle cx="530.3" cy="159.1" r="2.5"/><circle cx="537.4" cy="156.2" r="2.5"/><circle cx="534.2" cy="178.4" r="2.5"/><circle cx="530.8" cy="133.0" r="2.5"/><circle cx="520.8" cy="185.8" r="2.5"/><circle cx="560.1" cy="108.9" r="2.5"/><circle cx="553.7" cy="119.2" r="2.5"/><circle cx="527.6" cy="161.1" r="2.5"/><circle cx="533.5" cy="163.7" r="2.5"/><circle cx="527.6" cy="169.1" r="2.5"/><circle cx="564.0" cy="77.2" r="2.5"/><circle cx="538.2" cy="155.1" r="2.5"/><circle cx="543.8" cy="175.4" r="2.5"/><circle cx="558.5" cy="114.0" r="2.5"/><circle cx="563.8" cy="115.1" r="2.5"/><circle cx="533.3" cy="154.5" r="2.5"/><circle cx="553.9" cy="139.4" r="2.5"/><circle cx="544.0" cy="167.4" r="2.5"/><circle cx="565.8" cy="42.5" r="2.5"/><circle cx="559.5" cy="64.4" r="2.5"/><circle cx="550.6" cy="134.8" r="2.5"/><circle cx="553.1" cy="160.3" r="2.5"/><circle cx="554.8" cy="126.5" r="2.5"/><circle cx="555.8" cy="137.4" r="2.5"/><circle cx="560.4" cy="100.5" r="2.5"/><circle cx="543.5" cy="136.9" r="2.5"/><circle cx="525.8" cy="163.9" r="2.5"/><circle cx="553.3" cy="149.0" r="2.5"/><circle cx="558.0" cy="115.1" r="2.5"/><circle cx="534.5" cy="162.0" r="2.5"/><circle cx="560.8" cy="129.3" r="2.5"/><circle cx="535.5" cy="120.3" r="2.5"/><circle cx="533.8" cy="147.9" r="2.5"/><circle cx="538.2" cy="144.3" r="2.5"/><circle cx="556.2" cy="91.3" r="2.5"/><circle cx="564.5" cy="81.7" r="2.5"/><circle cx="563.8" cy="72.0" r="2.5"/><circle cx="539.5" cy="144.4" r="2.5"/><circle cx="527.5" cy="190.8" r="2.5"/><circle cx="529.3" cy="165.0" r="2.5"/><circle cx="564.0" cy="85.9" r="2.5"/><circle cx="530.0" cy="180.0" r="2.5"/><circle cx="562.2" cy="112.5" r="2.5"/><circle cx="555.1" cy="152.9" r="2.5"/><circle cx="559.5" cy="103.8" r="2.5"/><circle cx="565.8" cy="102.5" r="2.5"/><circle cx="523.7" cy="196.7" r="2.5"/><circle cx="558.0" cy="156.4" r="2.5"/><circle cx="561.2" cy="136.8" r="2.5"/><circle cx="549.4" cy="134.9" r="2.5"/><circle cx="565.5" cy="97.2" r="2.5"/><circle cx="519.7" cy="167.9" r="2.5"/><circle cx="538.9" cy="152.1" r="2.5"/><circle cx="541.3" cy="151.6" r="2.5"/><circle cx="561.7" cy="164.1" r="2.5"/><circle cx="561.6" cy="88.3" r="2.5"/><circle cx="552.3" cy="137.6" r="2.5"/><circle cx="559.9" cy="109.1" r="2.5"/><circle cx="545.2" cy="140.4" r="2.5"/><circle cx="562.8" cy="82.9" r="2.5"/><circle cx="532.4" cy="150.4" r="2.5"/><circle cx="552.3" cy="122.9" r="2.5"/><circle cx="531.7" cy="174.1" r="2.5"/><circle cx="519.2" cy="161.7" r="2.5"/><circle cx="542.2" cy="139.9" r="2.5"/><circle cx="558.2" cy="100.0" r="2.5"/><circle cx="544.4" cy="146.3" r="2.5"/><circle cx="550.0" cy="144.8" r="2.5"/><circle cx="557.7" cy="112.0" r="2.5"/><circle cx="530.9" cy="156.5" r="2.5"/><circle cx="534.1" cy="145.5" r="2.5"/><circle cx="519.4" cy="158.0" r="2.5"/><circle cx="555.0" cy="146.1" r="2.5"/><circle cx="553.9" cy="93.6" r="2.5"/><circle cx="559.6" cy="61.0" r="2.5"/><circle cx="537.5" cy="199.2" r="2.5"/><circle cx="566.4" cy="55.8" r="2.5"/><circle cx="559.9" cy="136.1" r="2.5"/><circle cx="545.7" cy="154.5" r="2.5"/><circle cx="548.3" cy="144.8" r="2.5"/><circle cx="560.9" cy="167.9" r="2.5"/><circle cx="527.8" cy="163.3" r="2.5"/><circle cx="527.5" cy="140.0" r="2.5"/><circle cx="564.7" cy="97.1" r="2.5"/><circle cx="551.1" cy="143.2" r="2.5"/><circle cx="532.9" cy="156.0" r="2.5"/><circle cx="555.8" cy="122.1" r="2.5"/><circle cx="552.5" cy="175.8" r="2.5"/><circle cx="526.9" cy="164.4" r="2.5"/><circle cx="554.4" cy="122.0" r="2.5"/><circle cx="528.3" cy="185.0" r="2.5"/><circle cx="568.7" cy="110.8" r="2.5"/><circle cx="541.9" cy="149.2" r="2.5"/><circle cx="558.1" cy="106.4" r="2.5"/><circle cx="521.2" cy="169.5" r="2.5"/><circle cx="523.8" cy="169.2" r="2.5"/><circle cx="569.2" cy="50.5" r="2.5"/><circle cx="552.1" cy="125.7" r="2.5"/><circle cx="556.6" cy="172.2" r="2.5"/><circle cx="542.9" cy="139.3" r="2.5"/><circle cx="554.5" cy="114.8" r="2.5"/><circle cx="545.6" cy="140.6" r="2.5"/><circle cx="544.8" cy="132.3" r="2.5"/><circle cx="536.5" cy="174.5" r="2.5"/><circle cx="560.2" cy="78.0" r="2.5"/><circle cx="545.6" cy="140.2" r="2.5"/><circle cx="544.7" cy="147.0" r="2.5"/><circle cx="545.3" cy="142.9" r="2.5"/><circle cx="537.2" cy="145.9" r="2.5"/><circle cx="543.3" cy="204.7" r="2.5"/><circle cx="541.3" cy="172.7" r="2.5"/><circle cx="535.1" cy="158.5" r="2.5"/><circle cx="543.5" cy="144.2" r="2.5"/><circle cx="564.1" cy="84.4" r="2.5"/><circle cx="555.0" cy="86.4" r="2.5"/><circle cx="523.9" cy="150.4" r="2.5"/><circle cx="544.8" cy="137.3" r="2.5"/><circle cx="523.7" cy="147.0" r="2.5"/><circle cx="522.2" cy="154.1" r="2.5"/><circle cx="564.0" cy="91.1" r="2.5"/><circle cx="552.3" cy="168.0" r="2.5"/><circle cx="551.4" cy="105.6" r="2.5"/><circle cx="561.1" cy="161.5" r="2.5"/><circle cx="521.6" cy="178.6" r="2.5"/><circle cx="562.2" cy="96.8" r="2.5"/><circle cx="518.7" cy="176.1" r="2.5"/><circle cx="561.4" cy="145.0" r="2.5"/><circle cx="551.9" cy="111.7" r="2.5"/><circle cx="550.1" cy="134.1" r="2.5"/><circle cx="545.4" cy="147.1" r="2.5"/><circle cx="546.8" cy="170.7" r="2.5"/><circle cx="559.6" cy="152.9" r="2.5"/><circle cx="544.7" cy="140.2" r="2.5"/><circle cx="540.3" cy="175.8" r="2.5"/><circle cx="566.4" cy="124.5" r="2.5"/><circle cx="551.0" cy="133.3" r="2.5"/><circle cx="555.5" cy="93.7" r="2.5"/><circle cx="550.5" cy="126.4" r="2.5"/><circle cx="566.9" cy="93.9" r="2.5"/><circle cx="552.4" cy="152.2" r="2.5"/><circle cx="559.8" cy="59.8" r="2.5"/><circle cx="542.0" cy="171.2" r="2.5"/><circle cx="535.9" cy="159.7" r="2.5"/><circle cx="555.0" cy="149.4" r="2.5"/><circle cx="554.1" cy="128.6" r="2.5"/><circle cx="548.1" cy="128.1" r="2.5"/><circle cx="525.8" cy="166.9" r="2.5"/><circle cx="545.3" cy="136.2" r="2.5"/><circle cx="548.2" cy="144.5" r="2.5"/><circle cx="540.0" cy="146.2" r="2.5"/><circle cx="549.3" cy="123.2" r="2.5"/><circle cx="545.3" cy="144.2" r="2.5"/><circle cx="517.6" cy="179.4" r="2.5"/><circle cx="539.3" cy="151.6" r="2.5"/><circle cx="559.4" cy="83.2" r="2.5"/><circle cx="526.0" cy="149.1" r="2.5"/><circle cx="559.6" cy="142.7" r="2.5"/><circle cx="539.7" cy="156.3" r="2.5"/><circle cx="559.9" cy="113.8" r="2.5"/><circle cx="567.0" cy="95.8" r="2.5"/><circle cx="539.7" cy="175.9" r="2.5"/><circle cx="550.8" cy="147.2" r="2.5"/><circle cx="564.8" cy="139.1" r="2.5"/><circle cx="522.9" cy="169.7" r="2.5"/><circle cx="562.0" cy="71.8" r="2.5"/><circle cx="535.9" cy="154.3" r="2.5"/><circle cx="527.6" cy="148.7" r="2.5"/><circle cx="542.5" cy="143.0" r="2.5"/><circle cx="563.0" cy="123.6" r="2.5"/><circle cx="540.7" cy="148.0" r="2.5"/><circle cx="537.8" cy="175.3" r="2.5"/><circle cx="521.7" cy="153.3" r="2.5"/><circle cx="561.7" cy="161.9" r="2.5"/><circle cx="540.8" cy="202.5" r="2.5"/><circle cx="559.7" cy="146.0" r="2.5"/><circle cx="555.4" cy="115.0" r="2.5"/><circle cx="553.1" cy="131.6" r="2.5"/><circle cx="532.5" cy="152.5" r="2.5"/><circle cx="561.6" cy="51.4" r="2.5"/><circle cx="564.5" cy="47.0" r="2.5"/><circle cx="560.0" cy="82.2" r="2.5"/><circle cx="564.2" cy="114.5" r="2.5"/><circle cx="562.5" cy="53.3" r="2.5"/><circle cx="560.4" cy="95.5" r="2.5"/><circle cx="557.6" cy="85.6" r="2.5"/><circle cx="537.4" cy="171.4" r="2.5"/><circle cx="555.9" cy="173.0" r="2.5"/><circle cx="543.0" cy="116.3" r="2.5"/><circle cx="564.0" cy="71.7" r="2.5"/><circle cx="558.4" cy="157.8" r="2.5"/><circle cx="522.2" cy="166.1" r="2.5"/><circle cx="535.8" cy="132.5" r="2.5"/><circle cx="525.3" cy="164.3" r="2.5"/><circle cx="557.5" cy="148.5" r="2.5"/><circle cx="538.6" cy="155.1" r="2.5"/><circle cx="539.7" cy="151.0" r="2.5"/><circle cx="550.1" cy="148.0" r="2.5"/><circle cx="535.9" cy="154.7" r="2.5"/><circle cx="515.8" cy="171.9" r="2.5"/><circle cx="524.5" cy="164.5" r="2.5"/><circle cx="556.1" cy="162.7" r="2.5"/><circle cx="545.8" cy="181.7" r="2.5"/><circle cx="557.4" cy="136.3" r="2.5"/><circle cx="533.6" cy="169.3" r="2.5"/><circle cx="546.3" cy="125.7" r="2.5"/><circle cx="551.1" cy="164.3" r="2.5"/><circle cx="522.9" cy="175.6" r="2.5"/><circle cx="535.3" cy="158.6" r="2.5"/><circle cx="548.3" cy="120.9" r="2.5"/><circle cx="561.9" cy="99.5" r="2.5"/><circle cx="560.0" cy="83.3" r="2.5"/><circle cx="559.0" cy="168.3" r="2.5"/><circle cx="549.2" cy="166.2" r="2.5"/><circle cx="535.0" cy="150.0" r="2.5"/><circle cx="535.0" cy="195.0" r="2.5"/><circle cx="563.5" cy="151.3" r="2.5"/><circle cx="557.1" cy="86.2" r="2.5"/><circle cx="555.7" cy="113.9" r="2.5"/><circle cx="515.8" cy="167.5" r="2.5"/><circle cx="563.0" cy="56.1" r="2.5"/><circle cx="557.5" cy="154.0" r="2.5"/><circle cx="566.7" cy="55.0" r="2.5"/><circle cx="536.1" cy="158.2" r="2.5"/><circle cx="545.0" cy="149.9" r="2.5"/></g>
<path d="M513.3,163.2C514.6,163.8 518.2,167.1 521.0,167.0C523.8,166.9 527.2,164.8 530.0,162.8C532.8,160.8 535.5,157.6 538.0,155.0C540.5,152.4 542.5,151.1 545.0,147.0C547.5,142.9 550.8,136.1 553.3,130.3C555.8,124.5 558.2,118.4 560.0,112.0C561.8,105.6 563.0,98.1 564.2,92.0C565.5,85.9 566.8,80.5 567.5,75.3C568.2,70.1 568.5,63.1 568.7,60.7L568.7,72.7C568.5,74.1 568.2,77.1 567.5,81.3C566.8,85.5 565.5,91.9 564.2,98.0C563.0,104.1 561.8,111.6 560.0,118.0C558.2,124.4 555.8,130.5 553.3,136.3C550.8,142.1 547.5,148.9 545.0,153.0C542.5,157.1 540.5,158.4 538.0,161.0C535.5,163.6 532.8,165.8 530.0,168.8C527.2,171.8 523.8,174.6 521.0,179.0C518.2,183.4 514.6,192.5 513.3,195.2Z" fill="#999" fill-opacity="0.4"/>
<path d="M513.3,179.2C514.6,178.2 518.2,175.2 521.0,173.0C523.8,170.8 527.2,168.3 530.0,165.8C532.8,163.3 535.5,160.6 538.0,158.0C540.5,155.4 542.5,154.1 545.0,150.0C547.5,145.9 550.8,139.1 553.3,133.3C555.8,127.5 558.2,121.4 560.0,115.0C561.8,108.6 563.0,101.1 564.2,95.0C565.5,88.9 566.8,83.0 567.5,78.3C568.2,73.6 568.5,68.6 568.7,66.7" fill="none" stroke="#86a51e" stroke-width="2.7"/>
<g stroke="#ececec" stroke-width="0.5"><line x1="605.7" x2="605.7" y1="35" y2="212.5"/><line x1="616.1" x2="616.1" y1="35" y2="212.5"/><line x1="626.6" x2="626.6" y1="35" y2="212.5"/><line x1="637.0" x2="637.0" y1="35" y2="212.5"/><line x1="647.4" x2="647.4" y1="35" y2="212.5"/><line x1="657.9" x2="657.9" y1="35" y2="212.5"/><line x1="596.7" x2="657.5" y1="59.8" y2="59.8"/><line x1="596.7" x2="657.5" y1="114.2" y2="114.2"/><line x1="596.7" x2="657.5" y1="168.5" y2="168.5"/></g><g stroke="#e8e8e8" stroke-width="0.85"><line x1="600.5" x2="600.5" y1="35" y2="212.5"/><line x1="610.9" x2="610.9" y1="35" y2="212.5"/><line x1="621.4" x2="621.4" y1="35" y2="212.5"/><line x1="631.8" x2="631.8" y1="35" y2="212.5"/><line x1="642.2" x2="642.2" y1="35" y2="212.5"/><line x1="652.6" x2="652.6" y1="35" y2="212.5"/><line x1="596.7" x2="657.5" y1="87.0" y2="87.0"/><line x1="596.7" x2="657.5" y1="141.3" y2="141.3"/><line x1="596.7" x2="657.5" y1="195.7" y2="195.7"/></g><text x="627" y="28.8" font-size="10.6" text-anchor="middle" fill="#1a1a1a">Asia</text><g font-size="9.8" fill="#4d4d4d"><text x="590.3" y="90.4" text-anchor="end">10</text><text x="590.3" y="144.7" text-anchor="end">8</text><text x="590.3" y="199.1" text-anchor="end">6</text><text x="600.5" y="226.4" text-anchor="middle">30</text><text x="610.9" y="226.4" text-anchor="middle">40</text><text x="621.4" y="226.4" text-anchor="middle">50</text><text x="631.8" y="226.4" text-anchor="middle">60</text><text x="642.2" y="226.4" text-anchor="middle">70</text><text x="652.6" y="226.4" text-anchor="middle">80</text></g>
<g fill="#d9701c" fill-opacity="0.42" stroke="#d9701c" stroke-opacity="0.42" stroke-width="0.95"><circle cx="621.1" cy="161.0" r="2.5"/><circle cx="622.2" cy="162.3" r="2.5"/><circle cx="630.3" cy="154.7" r="2.5"/><circle cx="632.2" cy="140.9" r="2.5"/><circle cx="639.5" cy="122.9" r="2.5"/><circle cx="624.2" cy="122.5" r="2.5"/><circle cx="652.0" cy="99.5" r="2.5"/><circle cx="647.5" cy="101.6" r="2.5"/><circle cx="646.9" cy="145.5" r="2.5"/><circle cx="607.2" cy="179.5" r="2.5"/><circle cx="654.9" cy="81.6" r="2.5"/><circle cx="620.5" cy="145.7" r="2.5"/><circle cx="631.3" cy="175.6" r="2.5"/><circle cx="638.3" cy="114.3" r="2.5"/><circle cx="632.5" cy="148.0" r="2.5"/><circle cx="634.2" cy="133.9" r="2.5"/><circle cx="635.8" cy="135.3" r="2.5"/><circle cx="640.0" cy="116.3" r="2.5"/><circle cx="633.3" cy="139.9" r="2.5"/><circle cx="621.5" cy="176.1" r="2.5"/><circle cx="633.3" cy="184.2" r="2.5"/><circle cx="627.6" cy="139.9" r="2.5"/><circle cx="632.6" cy="115.8" r="2.5"/><circle cx="630.7" cy="142.9" r="2.5"/><circle cx="653.6" cy="98.9" r="2.5"/><circle cx="631.7" cy="115.0" r="2.5"/><circle cx="625.0" cy="83.3" r="2.5"/><circle cx="623.9" cy="158.0" r="2.5"/><circle cx="643.7" cy="124.6" r="2.5"/><circle cx="627.7" cy="150.4" r="2.5"/><circle cx="644.8" cy="139.1" r="2.5"/><circle cx="638.0" cy="127.8" r="2.5"/><circle cx="611.0" cy="163.0" r="2.5"/><circle cx="619.8" cy="153.6" r="2.5"/><circle cx="626.4" cy="151.1" r="2.5"/><circle cx="646.2" cy="83.8" r="2.5"/><circle cx="615.0" cy="132.5" r="2.5"/><circle cx="621.2" cy="144.9" r="2.5"/><circle cx="627.6" cy="153.9" r="2.5"/><circle cx="637.9" cy="105.5" r="2.5"/><circle cx="617.5" cy="158.5" r="2.5"/><circle cx="626.3" cy="172.0" r="2.5"/><circle cx="625.2" cy="151.5" r="2.5"/><circle cx="622.9" cy="153.1" r="2.5"/><circle cx="637.7" cy="131.3" r="2.5"/><circle cx="615.0" cy="195.8" r="2.5"/><circle cx="643.8" cy="119.0" r="2.5"/><circle cx="636.7" cy="117.5" r="2.5"/><circle cx="646.0" cy="101.1" r="2.5"/><circle cx="608.9" cy="174.8" r="2.5"/><circle cx="618.0" cy="177.0" r="2.5"/><circle cx="628.6" cy="144.6" r="2.5"/><circle cx="637.4" cy="101.2" r="2.5"/><circle cx="620.8" cy="92.5" r="2.5"/><circle cx="630.3" cy="147.6" r="2.5"/><circle cx="615.9" cy="154.7" r="2.5"/><circle cx="613.4" cy="162.7" r="2.5"/><circle cx="610.7" cy="161.3" r="2.5"/><circle cx="622.4" cy="162.7" r="2.5"/><circle cx="651.3" cy="90.5" r="2.5"/><circle cx="624.1" cy="139.8" r="2.5"/><circle cx="631.2" cy="127.3" r="2.5"/><circle cx="605.1" cy="170.3" r="2.5"/><circle cx="631.7" cy="97.5" r="2.5"/><circle cx="645.1" cy="108.9" r="2.5"/><circle cx="633.4" cy="167.5" r="2.5"/><circle cx="629.8" cy="167.5" r="2.5"/><circle cx="610.3" cy="185.4" r="2.5"/><circle cx="617.9" cy="169.8" r="2.5"/><circle cx="627.5" cy="127.5" r="2.5"/><circle cx="651.5" cy="89.0" r="2.5"/><circle cx="615.5" cy="180.4" r="2.5"/><circle cx="613.3" cy="190.0" r="2.5"/><circle cx="646.8" cy="125.5" r="2.5"/><circle cx="625.3" cy="156.4" r="2.5"/><circle cx="607.7" cy="166.9" r="2.5"/><circle cx="617.1" cy="166.5" r="2.5"/><circle cx="652.7" cy="68.2" r="2.5"/><circle cx="626.3" cy="146.2" r="2.5"/><circle cx="602.4" cy="176.4" r="2.5"/><circle cx="600.8" cy="187.5" r="2.5"/><circle cx="622.5" cy="143.3" r="2.5"/><circle cx="639.7" cy="44.2" r="2.5"/><circle cx="641.6" cy="98.1" r="2.5"/><circle cx="606.2" cy="170.4" r="2.5"/><circle cx="617.8" cy="169.8" r="2.5"/><circle cx="624.6" cy="153.5" r="2.5"/><circle cx="626.8" cy="159.2" r="2.5"/><circle cx="636.7" cy="104.2" r="2.5"/><circle cx="639.9" cy="123.3" r="2.5"/><circle cx="625.0" cy="155.9" r="2.5"/><circle cx="635.4" cy="130.3" r="2.5"/><circle cx="602.7" cy="181.8" r="2.5"/><circle cx="631.6" cy="136.8" r="2.5"/><circle cx="630.0" cy="75.0" r="2.5"/><circle cx="609.6" cy="182.6" r="2.5"/><circle cx="643.0" cy="77.5" r="2.5"/><circle cx="649.9" cy="92.8" r="2.5"/><circle cx="641.8" cy="155.5" r="2.5"/><circle cx="643.6" cy="112.3" r="2.5"/><circle cx="616.4" cy="164.6" r="2.5"/><circle cx="640.3" cy="156.6" r="2.5"/><circle cx="602.1" cy="173.3" r="2.5"/><circle cx="633.8" cy="131.3" r="2.5"/><circle cx="635.7" cy="130.3" r="2.5"/><circle cx="608.7" cy="168.1" r="2.5"/><circle cx="636.4" cy="106.2" r="2.5"/><circle cx="622.0" cy="146.9" r="2.5"/><circle cx="647.2" cy="72.8" r="2.5"/><circle cx="644.3" cy="116.7" r="2.5"/><circle cx="638.9" cy="143.8" r="2.5"/><circle cx="630.8" cy="141.3" r="2.5"/><circle cx="627.1" cy="139.4" r="2.5"/><circle cx="632.9" cy="127.9" r="2.5"/><circle cx="650.5" cy="80.3" r="2.5"/><circle cx="652.2" cy="79.6" r="2.5"/><circle cx="639.7" cy="113.6" r="2.5"/><circle cx="605.9" cy="180.2" r="2.5"/><circle cx="621.2" cy="145.3" r="2.5"/><circle cx="617.5" cy="128.3" r="2.5"/><circle cx="634.5" cy="106.7" r="2.5"/><circle cx="606.7" cy="200.0" r="2.5"/><circle cx="610.5" cy="167.2" r="2.5"/><circle cx="651.0" cy="83.8" r="2.5"/><circle cx="618.6" cy="154.8" r="2.5"/><circle cx="639.0" cy="154.0" r="2.5"/><circle cx="626.0" cy="153.8" r="2.5"/><circle cx="652.7" cy="105.9" r="2.5"/><circle cx="638.5" cy="100.0" r="2.5"/><circle cx="634.1" cy="133.5" r="2.5"/><circle cx="634.3" cy="141.5" r="2.5"/><circle cx="604.9" cy="179.2" r="2.5"/><circle cx="638.7" cy="148.7" r="2.5"/><circle cx="615.2" cy="156.7" r="2.5"/><circle cx="632.0" cy="169.0" r="2.5"/><circle cx="629.6" cy="150.9" r="2.5"/><circle cx="605.7" cy="176.2" r="2.5"/><circle cx="642.3" cy="124.8" r="2.5"/><circle cx="612.8" cy="166.7" r="2.5"/><circle cx="641.8" cy="79.0" r="2.5"/><circle cx="642.1" cy="136.8" r="2.5"/><circle cx="632.5" cy="150.1" r="2.5"/><circle cx="642.0" cy="126.2" r="2.5"/><circle cx="643.3" cy="76.7" r="2.5"/><circle cx="613.3" cy="179.2" r="2.5"/><circle cx="616.3" cy="174.4" r="2.5"/><circle cx="613.7" cy="113.7" r="2.5"/><circle cx="635.6" cy="153.4" r="2.5"/><circle cx="621.5" cy="152.8" r="2.5"/><circle cx="644.3" cy="99.7" r="2.5"/><circle cx="616.8" cy="181.6" r="2.5"/><circle cx="637.1" cy="116.7" r="2.5"/><circle cx="601.7" cy="175.0" r="2.5"/><circle cx="640.4" cy="150.8" r="2.5"/><circle cx="649.4" cy="77.1" r="2.5"/><circle cx="612.5" cy="178.6" r="2.5"/><circle cx="631.2" cy="134.1" r="2.5"/><circle cx="611.7" cy="168.5" r="2.5"/><circle cx="626.7" cy="44.2" r="2.5"/><circle cx="650.6" cy="96.1" r="2.5"/><circle cx="620.1" cy="149.3" r="2.5"/><circle cx="610.3" cy="172.0" r="2.5"/><circle cx="640.3" cy="124.0" r="2.5"/><circle cx="625.5" cy="176.6" r="2.5"/><circle cx="625.2" cy="154.7" r="2.5"/><circle cx="641.2" cy="148.0" r="2.5"/><circle cx="648.4" cy="146.7" r="2.5"/><circle cx="636.5" cy="100.9" r="2.5"/><circle cx="628.9" cy="181.7" r="2.5"/><circle cx="629.2" cy="157.8" r="2.5"/><circle cx="602.0" cy="181.0" r="2.5"/><circle cx="609.6" cy="171.8" r="2.5"/><circle cx="643.4" cy="148.4" r="2.5"/><circle cx="647.3" cy="123.0" r="2.5"/><circle cx="639.5" cy="111.6" r="2.5"/><circle cx="629.5" cy="158.5" r="2.5"/><circle cx="614.4" cy="158.1" r="2.5"/><circle cx="629.9" cy="157.7" r="2.5"/><circle cx="644.0" cy="134.3" r="2.5"/><circle cx="634.5" cy="135.0" r="2.5"/><circle cx="632.0" cy="194.2" r="2.5"/><circle cx="649.4" cy="108.0" r="2.5"/><circle cx="623.8" cy="163.1" r="2.5"/><circle cx="633.9" cy="131.1" r="2.5"/><circle cx="629.2" cy="150.8" r="2.5"/><circle cx="640.2" cy="109.3" r="2.5"/><circle cx="608.5" cy="159.8" r="2.5"/><circle cx="617.0" cy="172.6" r="2.5"/><circle cx="604.9" cy="180.4" r="2.5"/><circle cx="610.3" cy="170.2" r="2.5"/><circle cx="644.5" cy="150.4" r="2.5"/><circle cx="650.3" cy="96.4" r="2.5"/><circle cx="608.3" cy="155.0" r="2.5"/><circle cx="640.8" cy="83.7" r="2.5"/><circle cx="644.4" cy="131.7" r="2.5"/><circle cx="609.7" cy="174.9" r="2.5"/><circle cx="643.7" cy="89.7" r="2.5"/><circle cx="628.5" cy="171.4" r="2.5"/><circle cx="641.2" cy="122.6" r="2.5"/><circle cx="614.5" cy="168.8" r="2.5"/><circle cx="614.8" cy="167.8" r="2.5"/><circle cx="636.4" cy="173.9" r="2.5"/><circle cx="638.6" cy="125.0" r="2.5"/><circle cx="640.5" cy="104.4" r="2.5"/><circle cx="653.3" cy="69.7" r="2.5"/><circle cx="638.7" cy="130.4" r="2.5"/><circle cx="611.8" cy="176.2" r="2.5"/><circle cx="632.2" cy="150.1" r="2.5"/><circle cx="613.3" cy="173.7" r="2.5"/><circle cx="638.5" cy="107.6" r="2.5"/><circle cx="637.5" cy="126.6" r="2.5"/><circle cx="621.7" cy="188.7" r="2.5"/><circle cx="604.3" cy="177.2" r="2.5"/><circle cx="645.0" cy="96.4" r="2.5"/><circle cx="643.2" cy="127.3" r="2.5"/><circle cx="612.4" cy="155.6" r="2.5"/><circle cx="636.4" cy="134.7" r="2.5"/><circle cx="612.2" cy="155.5" r="2.5"/><circle cx="620.6" cy="155.0" r="2.5"/><circle cx="635.9" cy="127.4" r="2.5"/><circle cx="612.6" cy="172.3" r="2.5"/><circle cx="630.4" cy="145.8" r="2.5"/><circle cx="649.5" cy="118.6" r="2.5"/><circle cx="617.6" cy="149.7" r="2.5"/><circle cx="631.9" cy="149.5" r="2.5"/><circle cx="616.8" cy="161.6" r="2.5"/><circle cx="635.6" cy="126.7" r="2.5"/><circle cx="621.8" cy="183.8" r="2.5"/><circle cx="652.6" cy="101.0" r="2.5"/><circle cx="648.8" cy="87.2" r="2.5"/><circle cx="637.5" cy="128.9" r="2.5"/><circle cx="624.5" cy="155.2" r="2.5"/><circle cx="630.1" cy="162.0" r="2.5"/><circle cx="629.0" cy="142.2" r="2.5"/><circle cx="618.3" cy="138.3" r="2.5"/><circle cx="620.8" cy="169.2" r="2.5"/><circle cx="631.2" cy="141.5" r="2.5"/><circle cx="625.8" cy="198.3" r="2.5"/><circle cx="632.6" cy="175.3" r="2.5"/><circle cx="630.1" cy="174.6" r="2.5"/><circle cx="643.5" cy="107.1" r="2.5"/><circle cx="617.0" cy="104.2" r="2.5"/><circle cx="637.5" cy="87.3" r="2.5"/><circle cx="640.5" cy="156.1" r="2.5"/><circle cx="640.5" cy="84.2" r="2.5"/><circle cx="626.8" cy="163.7" r="2.5"/><circle cx="642.1" cy="139.6" r="2.5"/><circle cx="598.3" cy="176.7" r="2.5"/><circle cx="645.8" cy="155.0" r="2.5"/><circle cx="618.0" cy="164.1" r="2.5"/><circle cx="613.4" cy="167.3" r="2.5"/><circle cx="635.0" cy="120.9" r="2.5"/><circle cx="626.1" cy="138.8" r="2.5"/><circle cx="625.9" cy="167.3" r="2.5"/><circle cx="637.2" cy="157.3" r="2.5"/><circle cx="637.6" cy="100.1" r="2.5"/><circle cx="612.6" cy="160.7" r="2.5"/><circle cx="617.3" cy="166.9" r="2.5"/><circle cx="612.9" cy="169.1" r="2.5"/><circle cx="609.6" cy="166.8" r="2.5"/><circle cx="626.6" cy="156.6" r="2.5"/><circle cx="630.0" cy="42.5" r="2.5"/><circle cx="625.6" cy="150.7" r="2.5"/><circle cx="638.2" cy="94.8" r="2.5"/><circle cx="634.7" cy="111.1" r="2.5"/><circle cx="648.2" cy="138.6" r="2.5"/><circle cx="649.1" cy="104.3" r="2.5"/><circle cx="650.4" cy="86.2" r="2.5"/><circle cx="627.7" cy="185.6" r="2.5"/><circle cx="628.3" cy="102.5" r="2.5"/><circle cx="614.2" cy="141.7" r="2.5"/><circle cx="616.7" cy="164.3" r="2.5"/><circle cx="637.8" cy="117.2" r="2.5"/><circle cx="632.3" cy="186.0" r="2.5"/><circle cx="620.7" cy="163.9" r="2.5"/><circle cx="628.1" cy="136.3" r="2.5"/><circle cx="648.5" cy="89.3" r="2.5"/><circle cx="639.9" cy="147.3" r="2.5"/><circle cx="639.6" cy="150.9" r="2.5"/><circle cx="628.7" cy="142.6" r="2.5"/><circle cx="647.2" cy="136.4" r="2.5"/><circle cx="640.2" cy="129.4" r="2.5"/><circle cx="616.5" cy="154.0" r="2.5"/><circle cx="638.2" cy="118.7" r="2.5"/><circle cx="638.8" cy="119.7" r="2.5"/><circle cx="638.6" cy="152.1" r="2.5"/><circle cx="607.4" cy="172.5" r="2.5"/><circle cx="642.6" cy="147.4" r="2.5"/><circle cx="636.1" cy="136.8" r="2.5"/><circle cx="641.2" cy="60.0" r="2.5"/><circle cx="616.0" cy="153.6" r="2.5"/><circle cx="619.7" cy="120.5" r="2.5"/><circle cx="642.5" cy="161.7" r="2.5"/><circle cx="611.1" cy="172.6" r="2.5"/><circle cx="648.1" cy="75.8" r="2.5"/><circle cx="611.3" cy="176.9" r="2.5"/><circle cx="601.1" cy="181.5" r="2.5"/><circle cx="620.5" cy="152.8" r="2.5"/><circle cx="648.1" cy="85.4" r="2.5"/><circle cx="634.8" cy="144.8" r="2.5"/><circle cx="615.2" cy="185.6" r="2.5"/><circle cx="617.2" cy="144.9" r="2.5"/><circle cx="610.5" cy="119.7" r="2.5"/><circle cx="628.8" cy="146.1" r="2.5"/><circle cx="608.5" cy="165.8" r="2.5"/><circle cx="649.7" cy="97.4" r="2.5"/><circle cx="618.9" cy="156.9" r="2.5"/><circle cx="631.0" cy="135.1" r="2.5"/><circle cx="643.5" cy="98.2" r="2.5"/><circle cx="648.9" cy="114.9" r="2.5"/><circle cx="640.1" cy="126.0" r="2.5"/><circle cx="630.3" cy="146.2" r="2.5"/><circle cx="645.8" cy="111.1" r="2.5"/><circle cx="633.5" cy="108.8" r="2.5"/><circle cx="636.9" cy="141.5" r="2.5"/><circle cx="615.2" cy="183.5" r="2.5"/><circle cx="648.7" cy="133.4" r="2.5"/><circle cx="609.1" cy="175.1" r="2.5"/><circle cx="647.9" cy="78.6" r="2.5"/><circle cx="632.0" cy="141.0" r="2.5"/><circle cx="640.1" cy="131.8" r="2.5"/><circle cx="631.8" cy="122.5" r="2.5"/><circle cx="601.8" cy="176.4" r="2.5"/><circle cx="645.5" cy="94.4" r="2.5"/><circle cx="632.3" cy="149.7" r="2.5"/><circle cx="635.8" cy="180.0" r="2.5"/><circle cx="633.6" cy="99.0" r="2.5"/><circle cx="617.8" cy="154.5" r="2.5"/><circle cx="613.1" cy="163.6" r="2.5"/><circle cx="630.1" cy="169.9" r="2.5"/><circle cx="610.0" cy="148.3" r="2.5"/><circle cx="627.6" cy="151.1" r="2.5"/><circle cx="624.3" cy="172.9" r="2.5"/><circle cx="612.5" cy="150.7" r="2.5"/><circle cx="619.6" cy="155.9" r="2.5"/><circle cx="632.0" cy="47.5" r="2.5"/><circle cx="607.0" cy="179.8" r="2.5"/><circle cx="632.2" cy="134.2" r="2.5"/><circle cx="648.0" cy="92.5" r="2.5"/><circle cx="637.2" cy="163.6" r="2.5"/><circle cx="623.1" cy="151.6" r="2.5"/><circle cx="644.0" cy="142.2" r="2.5"/><circle cx="636.3" cy="51.7" r="2.5"/><circle cx="612.8" cy="165.8" r="2.5"/><circle cx="620.3" cy="199.2" r="2.5"/><circle cx="610.5" cy="176.1" r="2.5"/><circle cx="608.1" cy="175.6" r="2.5"/><circle cx="646.0" cy="121.4" r="2.5"/><circle cx="623.3" cy="105.8" r="2.5"/><circle cx="643.4" cy="115.8" r="2.5"/><circle cx="615.5" cy="166.7" r="2.5"/><circle cx="631.6" cy="152.1" r="2.5"/><circle cx="639.3" cy="165.0" r="2.5"/><circle cx="605.0" cy="173.3" r="2.5"/><circle cx="604.3" cy="179.6" r="2.5"/><circle cx="630.9" cy="173.7" r="2.5"/><circle cx="634.4" cy="134.3" r="2.5"/><circle cx="652.2" cy="64.1" r="2.5"/><circle cx="649.8" cy="101.7" r="2.5"/><circle cx="635.0" cy="75.5" r="2.5"/><circle cx="637.8" cy="112.0" r="2.5"/><circle cx="635.9" cy="139.7" r="2.5"/><circle cx="613.9" cy="169.9" r="2.5"/><circle cx="621.3" cy="94.2" r="2.5"/><circle cx="646.4" cy="114.3" r="2.5"/><circle cx="632.5" cy="172.7" r="2.5"/><circle cx="609.1" cy="168.8" r="2.5"/><circle cx="638.3" cy="106.9" r="2.5"/><circle cx="639.4" cy="123.8" r="2.5"/><circle cx="649.0" cy="84.3" r="2.5"/><circle cx="631.8" cy="184.0" r="2.5"/><circle cx="634.3" cy="117.6" r="2.5"/><circle cx="648.9" cy="113.7" r="2.5"/><circle cx="644.5" cy="102.2" r="2.5"/><circle cx="610.1" cy="165.6" r="2.5"/><circle cx="628.6" cy="172.8" r="2.5"/><circle cx="618.3" cy="160.6" r="2.5"/><circle cx="640.0" cy="170.8" r="2.5"/><circle cx="625.3" cy="83.3" r="2.5"/><circle cx="623.2" cy="153.0" r="2.5"/><circle cx="615.0" cy="181.2" r="2.5"/><circle cx="630.2" cy="164.0" r="2.5"/><circle cx="627.3" cy="146.5" r="2.5"/><circle cx="630.7" cy="140.3" r="2.5"/><circle cx="632.6" cy="117.7" r="2.5"/><circle cx="632.2" cy="176.8" r="2.5"/><circle cx="626.1" cy="186.5" r="2.5"/><circle cx="645.2" cy="142.6" r="2.5"/><circle cx="634.4" cy="126.1" r="2.5"/><circle cx="645.9" cy="109.0" r="2.5"/><circle cx="622.3" cy="154.6" r="2.5"/><circle cx="611.6" cy="177.4" r="2.5"/><circle cx="653.8" cy="105.4" r="2.5"/><circle cx="638.2" cy="124.1" r="2.5"/><circle cx="620.8" cy="132.5" r="2.5"/><circle cx="616.1" cy="164.6" r="2.5"/><circle cx="647.4" cy="152.1" r="2.5"/><circle cx="634.4" cy="122.6" r="2.5"/><circle cx="638.3" cy="126.4" r="2.5"/><circle cx="610.0" cy="163.3" r="2.5"/><circle cx="648.3" cy="109.6" r="2.5"/><circle cx="636.4" cy="137.8" r="2.5"/><circle cx="621.6" cy="143.2" r="2.5"/><circle cx="630.2" cy="186.7" r="2.5"/><circle cx="650.8" cy="70.4" r="2.5"/><circle cx="614.1" cy="180.7" r="2.5"/><circle cx="626.1" cy="160.4" r="2.5"/><circle cx="624.9" cy="143.2" r="2.5"/><circle cx="622.6" cy="177.9" r="2.5"/><circle cx="619.0" cy="152.7" r="2.5"/><circle cx="614.7" cy="162.9" r="2.5"/><circle cx="605.5" cy="177.5" r="2.5"/><circle cx="634.1" cy="164.9" r="2.5"/><circle cx="640.5" cy="140.0" r="2.5"/><circle cx="645.9" cy="139.1" r="2.5"/><circle cx="603.6" cy="171.4" r="2.5"/><circle cx="612.9" cy="163.2" r="2.5"/><circle cx="649.3" cy="94.6" r="2.5"/><circle cx="627.2" cy="180.9" r="2.5"/><circle cx="630.3" cy="146.4" r="2.5"/><circle cx="642.2" cy="102.1" r="2.5"/><circle cx="627.4" cy="135.5" r="2.5"/><circle cx="605.1" cy="181.3" r="2.5"/><circle cx="622.0" cy="153.9" r="2.5"/><circle cx="647.0" cy="79.4" r="2.5"/><circle cx="651.5" cy="115.9" r="2.5"/><circle cx="607.6" cy="175.6" r="2.5"/><circle cx="640.1" cy="115.1" r="2.5"/><circle cx="617.6" cy="158.9" r="2.5"/><circle cx="629.8" cy="145.4" r="2.5"/><circle cx="646.6" cy="75.4" r="2.5"/><circle cx="620.4" cy="170.8" r="2.5"/><circle cx="644.4" cy="120.8" r="2.5"/><circle cx="635.4" cy="158.6" r="2.5"/><circle cx="614.5" cy="165.2" r="2.5"/><circle cx="629.1" cy="148.3" r="2.5"/><circle cx="630.0" cy="166.9" r="2.5"/><circle cx="608.8" cy="169.4" r="2.5"/><circle cx="605.0" cy="181.6" r="2.5"/><circle cx="641.7" cy="107.4" r="2.5"/><circle cx="620.8" cy="188.2" r="2.5"/><circle cx="635.0" cy="75.8" r="2.5"/><circle cx="629.2" cy="193.7" r="2.5"/><circle cx="640.8" cy="93.5" r="2.5"/><circle cx="654.6" cy="82.6" r="2.5"/><circle cx="650.9" cy="72.3" r="2.5"/><circle cx="645.3" cy="101.5" r="2.5"/><circle cx="653.5" cy="100.6" r="2.5"/><circle cx="644.6" cy="125.1" r="2.5"/><circle cx="630.0" cy="75.0" r="2.5"/><circle cx="637.7" cy="165.9" r="2.5"/><circle cx="610.0" cy="195.0" r="2.5"/><circle cx="602.4" cy="178.5" r="2.5"/><circle cx="630.3" cy="143.8" r="2.5"/><circle cx="622.1" cy="158.7" r="2.5"/><circle cx="624.2" cy="156.8" r="2.5"/><circle cx="626.5" cy="140.1" r="2.5"/><circle cx="635.0" cy="138.4" r="2.5"/><circle cx="618.7" cy="159.3" r="2.5"/><circle cx="640.7" cy="164.9" r="2.5"/><circle cx="624.9" cy="188.1" r="2.5"/><circle cx="640.2" cy="107.1" r="2.5"/><circle cx="607.2" cy="175.6" r="2.5"/><circle cx="628.7" cy="133.8" r="2.5"/><circle cx="625.0" cy="156.3" r="2.5"/><circle cx="635.7" cy="138.1" r="2.5"/><circle cx="636.7" cy="97.8" r="2.5"/><circle cx="631.3" cy="199.2" r="2.5"/><circle cx="611.3" cy="158.6" r="2.5"/><circle cx="637.8" cy="157.7" r="2.5"/><circle cx="627.3" cy="140.2" r="2.5"/><circle cx="602.2" cy="180.7" r="2.5"/><circle cx="635.3" cy="142.9" r="2.5"/><circle cx="634.6" cy="170.9" r="2.5"/><circle cx="621.7" cy="145.8" r="2.5"/><circle cx="655.3" cy="89.7" r="2.5"/><circle cx="634.6" cy="151.0" r="2.5"/><circle cx="643.6" cy="77.4" r="2.5"/><circle cx="636.2" cy="109.4" r="2.5"/><circle cx="621.1" cy="180.3" r="2.5"/><circle cx="650.0" cy="108.6" r="2.5"/><circle cx="617.0" cy="162.4" r="2.5"/><circle cx="619.7" cy="165.3" r="2.5"/><circle cx="621.7" cy="146.2" r="2.5"/></g>
<path d="M599.5,167.0C601.2,167.7 606.6,172.7 610.0,171.0C613.4,169.3 617.0,161.0 620.0,157.0C623.0,153.0 626.1,150.1 628.3,147.0C630.5,143.9 631.6,142.3 633.3,138.7C635.0,135.1 636.6,130.0 638.3,125.3C640.0,120.6 641.6,115.0 643.3,110.3C645.0,105.6 646.8,101.4 648.3,97.0C649.8,92.6 651.4,89.0 652.5,83.7C653.6,78.4 654.5,70.7 655.0,65.0C655.5,59.3 655.2,52.1 655.2,49.5L655.2,70.5C655.2,71.2 655.5,71.8 655.0,75.0C654.5,78.2 653.6,85.0 652.5,89.7C651.4,94.4 649.8,98.6 648.3,103.0C646.8,107.4 645.0,111.6 643.3,116.3C641.6,121.0 640.0,126.6 638.3,131.3C636.6,136.0 635.0,141.1 633.3,144.7C631.6,148.3 630.5,149.9 628.3,153.0C626.1,156.1 623.0,158.7 620.0,163.0C617.0,167.3 613.4,172.3 610.0,179.0C606.6,185.7 601.2,199.0 599.5,203.0Z" fill="#999" fill-opacity="0.4"/>
<path d="M653.6,68 L655.2,49 L656.3,68 Z" fill="#999" fill-opacity="0.45"/>
<path d="M599.5,185.0C601.2,183.3 606.6,179.2 610.0,175.0C613.4,170.8 617.0,164.2 620.0,160.0C623.0,155.8 626.1,153.1 628.3,150.0C630.5,146.9 631.6,145.3 633.3,141.7C635.0,138.1 636.6,133.0 638.3,128.3C640.0,123.6 641.6,118.0 643.3,113.3C645.0,108.6 646.8,104.4 648.3,100.0C649.8,95.6 651.4,91.7 652.5,86.7C653.6,81.7 654.5,74.0 655.0,70.0C655.5,66.0 655.2,63.8 655.2,62.5" fill="none" stroke="#d96e16" stroke-width="2.7"/>
<g stroke="#ececec" stroke-width="0.5"><line x1="419.8" x2="419.8" y1="256" y2="433.3"/><line x1="434.6" x2="434.6" y1="256" y2="433.3"/><line x1="449.4" x2="449.4" y1="256" y2="433.3"/><line x1="464.1" x2="464.1" y1="256" y2="433.3"/><line x1="415" x2="476.3" y1="276.7" y2="276.7"/><line x1="415" x2="476.3" y1="317.9" y2="317.9"/><line x1="415" x2="476.3" y1="359.0" y2="359.0"/><line x1="415" x2="476.3" y1="400.2" y2="400.2"/></g><g stroke="#e8e8e8" stroke-width="0.85"><line x1="427.2" x2="427.2" y1="256" y2="433.3"/><line x1="442.0" x2="442.0" y1="256" y2="433.3"/><line x1="456.8" x2="456.8" y1="256" y2="433.3"/><line x1="471.5" x2="471.5" y1="256" y2="433.3"/><line x1="415" x2="476.3" y1="256.2" y2="256.2"/><line x1="415" x2="476.3" y1="297.3" y2="297.3"/><line x1="415" x2="476.3" y1="338.4" y2="338.4"/><line x1="415" x2="476.3" y1="379.6" y2="379.6"/><line x1="415" x2="476.3" y1="420.8" y2="420.8"/></g><text x="445.5" y="250" font-size="10.6" text-anchor="middle" fill="#1a1a1a">Europe</text><g font-size="9.8" fill="#4d4d4d"><text x="408.3" y="259.6" text-anchor="end">11</text><text x="408.3" y="300.7" text-anchor="end">10</text><text x="408.3" y="341.8" text-anchor="end">9</text><text x="408.3" y="383.0" text-anchor="end">8</text><text x="408.3" y="424.1" text-anchor="end">7</text><text x="427.2" y="448" text-anchor="middle">50</text><text x="442.0" y="448" text-anchor="middle">60</text><text x="456.8" y="448" text-anchor="middle">70</text><text x="471.5" y="448" text-anchor="middle">80</text></g>
<g fill="#7d4f4a" fill-opacity="0.5" stroke="#7d4f4a" stroke-opacity="0.5" stroke-width="0.95"><circle cx="440.8" cy="397.2" r="2.5"/><circle cx="455.7" cy="329.5" r="2.5"/><circle cx="463.7" cy="313.0" r="2.5"/><circle cx="455.3" cy="319.2" r="2.5"/><circle cx="461.5" cy="304.9" r="2.5"/><circle cx="457.1" cy="304.7" r="2.5"/><circle cx="461.8" cy="289.9" r="2.5"/><circle cx="450.7" cy="342.4" r="2.5"/><circle cx="465.0" cy="300.3" r="2.5"/><circle cx="460.5" cy="321.6" r="2.5"/><circle cx="467.8" cy="297.8" r="2.5"/><circle cx="469.0" cy="274.1" r="2.5"/><circle cx="456.6" cy="338.1" r="2.5"/><circle cx="440.8" cy="365.0" r="2.5"/><circle cx="446.7" cy="368.3" r="2.5"/><circle cx="440.8" cy="364.2" r="2.5"/><circle cx="437.5" cy="372.5" r="2.5"/><circle cx="461.5" cy="298.9" r="2.5"/><circle cx="452.6" cy="353.2" r="2.5"/><circle cx="448.2" cy="349.1" r="2.5"/><circle cx="463.4" cy="323.3" r="2.5"/><circle cx="465.3" cy="286.3" r="2.5"/><circle cx="468.8" cy="293.9" r="2.5"/><circle cx="457.6" cy="350.0" r="2.5"/><circle cx="455.5" cy="330.7" r="2.5"/><circle cx="455.0" cy="326.2" r="2.5"/><circle cx="471.3" cy="263.8" r="2.5"/><circle cx="471.2" cy="294.4" r="2.5"/><circle cx="459.3" cy="300.7" r="2.5"/><circle cx="457.3" cy="301.5" r="2.5"/><circle cx="464.1" cy="315.4" r="2.5"/><circle cx="465.4" cy="280.8" r="2.5"/><circle cx="457.1" cy="336.1" r="2.5"/><circle cx="459.0" cy="339.7" r="2.5"/><circle cx="453.7" cy="329.5" r="2.5"/><circle cx="456.5" cy="312.4" r="2.5"/><circle cx="455.5" cy="324.8" r="2.5"/><circle cx="457.6" cy="322.6" r="2.5"/><circle cx="473.1" cy="281.5" r="2.5"/><circle cx="455.9" cy="344.8" r="2.5"/><circle cx="472.4" cy="275.0" r="2.5"/><circle cx="473.8" cy="279.9" r="2.5"/><circle cx="464.5" cy="293.3" r="2.5"/><circle cx="471.4" cy="278.5" r="2.5"/><circle cx="466.9" cy="311.4" r="2.5"/><circle cx="457.5" cy="370.8" r="2.5"/><circle cx="458.1" cy="304.0" r="2.5"/><circle cx="462.6" cy="322.5" r="2.5"/><circle cx="458.3" cy="317.6" r="2.5"/><circle cx="464.0" cy="311.8" r="2.5"/><circle cx="455.8" cy="353.8" r="2.5"/><circle cx="468.4" cy="292.2" r="2.5"/><circle cx="462.8" cy="295.6" r="2.5"/><circle cx="467.5" cy="290.3" r="2.5"/><circle cx="457.5" cy="304.1" r="2.5"/><circle cx="466.8" cy="293.6" r="2.5"/><circle cx="460.0" cy="307.4" r="2.5"/><circle cx="440.8" cy="387.5" r="2.5"/><circle cx="474.3" cy="277.1" r="2.5"/><circle cx="460.6" cy="332.3" r="2.5"/><circle cx="470.2" cy="274.8" r="2.5"/><circle cx="461.0" cy="309.0" r="2.5"/><circle cx="456.3" cy="323.9" r="2.5"/><circle cx="461.4" cy="299.6" r="2.5"/><circle cx="460.8" cy="360.0" r="2.5"/><circle cx="459.2" cy="322.3" r="2.5"/><circle cx="467.6" cy="301.7" r="2.5"/><circle cx="466.3" cy="351.7" r="2.5"/><circle cx="465.0" cy="343.3" r="2.5"/><circle cx="463.2" cy="328.4" r="2.5"/><circle cx="468.0" cy="292.9" r="2.5"/><circle cx="451.2" cy="346.5" r="2.5"/><circle cx="458.1" cy="316.4" r="2.5"/><circle cx="456.7" cy="365.0" r="2.5"/><circle cx="460.0" cy="345.0" r="2.5"/><circle cx="470.7" cy="281.6" r="2.5"/><circle cx="469.2" cy="283.4" r="2.5"/><circle cx="459.5" cy="323.7" r="2.5"/><circle cx="459.0" cy="307.5" r="2.5"/><circle cx="462.1" cy="325.4" r="2.5"/><circle cx="465.5" cy="309.3" r="2.5"/><circle cx="459.6" cy="322.6" r="2.5"/><circle cx="473.2" cy="284.9" r="2.5"/><circle cx="455.7" cy="338.3" r="2.5"/><circle cx="451.1" cy="339.6" r="2.5"/><circle cx="456.1" cy="314.0" r="2.5"/><circle cx="462.7" cy="285.5" r="2.5"/><circle cx="450.0" cy="360.0" r="2.5"/><circle cx="473.3" cy="275.0" r="2.5"/><circle cx="461.5" cy="296.6" r="2.5"/><circle cx="471.4" cy="286.7" r="2.5"/><circle cx="472.0" cy="270.0" r="2.5"/><circle cx="452.9" cy="347.6" r="2.5"/><circle cx="457.3" cy="336.2" r="2.5"/><circle cx="455.8" cy="322.7" r="2.5"/><circle cx="461.5" cy="321.8" r="2.5"/><circle cx="453.8" cy="338.0" r="2.5"/><circle cx="465.0" cy="361.7" r="2.5"/><circle cx="458.9" cy="306.0" r="2.5"/><circle cx="465.6" cy="290.1" r="2.5"/><circle cx="454.1" cy="355.7" r="2.5"/><circle cx="453.2" cy="337.9" r="2.5"/><circle cx="456.4" cy="331.5" r="2.5"/><circle cx="468.7" cy="281.8" r="2.5"/><circle cx="460.0" cy="326.6" r="2.5"/><circle cx="465.8" cy="350.8" r="2.5"/><circle cx="469.3" cy="290.3" r="2.5"/><circle cx="461.6" cy="303.0" r="2.5"/><circle cx="466.3" cy="284.8" r="2.5"/><circle cx="466.8" cy="287.1" r="2.5"/><circle cx="455.8" cy="349.2" r="2.5"/><circle cx="471.9" cy="280.1" r="2.5"/><circle cx="452.1" cy="345.2" r="2.5"/><circle cx="472.2" cy="281.4" r="2.5"/><circle cx="457.8" cy="339.3" r="2.5"/><circle cx="456.3" cy="338.3" r="2.5"/><circle cx="462.6" cy="327.2" r="2.5"/><circle cx="472.1" cy="285.5" r="2.5"/><circle cx="463.3" cy="296.4" r="2.5"/><circle cx="455.4" cy="338.0" r="2.5"/><circle cx="452.0" cy="354.7" r="2.5"/><circle cx="465.3" cy="281.1" r="2.5"/><circle cx="464.4" cy="301.1" r="2.5"/><circle cx="459.5" cy="322.6" r="2.5"/><circle cx="454.0" cy="341.8" r="2.5"/><circle cx="465.4" cy="283.8" r="2.5"/><circle cx="432.5" cy="425.8" r="2.5"/><circle cx="468.8" cy="286.1" r="2.5"/><circle cx="462.3" cy="287.5" r="2.5"/><circle cx="457.7" cy="316.0" r="2.5"/><circle cx="465.8" cy="303.4" r="2.5"/><circle cx="433.3" cy="381.3" r="2.5"/><circle cx="451.5" cy="342.5" r="2.5"/><circle cx="470.1" cy="299.3" r="2.5"/><circle cx="460.7" cy="320.4" r="2.5"/><circle cx="448.7" cy="392.5" r="2.5"/><circle cx="451.6" cy="344.1" r="2.5"/><circle cx="459.9" cy="332.3" r="2.5"/><circle cx="461.1" cy="293.9" r="2.5"/><circle cx="453.6" cy="350.9" r="2.5"/><circle cx="469.7" cy="294.0" r="2.5"/><circle cx="465.5" cy="284.0" r="2.5"/><circle cx="460.1" cy="324.3" r="2.5"/><circle cx="465.7" cy="309.3" r="2.5"/><circle cx="469.6" cy="276.6" r="2.5"/><circle cx="424.2" cy="391.7" r="2.5"/><circle cx="463.0" cy="330.8" r="2.5"/><circle cx="454.9" cy="331.7" r="2.5"/><circle cx="461.2" cy="292.9" r="2.5"/><circle cx="464.3" cy="295.4" r="2.5"/><circle cx="448.7" cy="390.0" r="2.5"/><circle cx="469.8" cy="285.5" r="2.5"/><circle cx="460.9" cy="308.1" r="2.5"/><circle cx="446.7" cy="352.2" r="2.5"/><circle cx="463.1" cy="327.3" r="2.5"/><circle cx="461.4" cy="311.0" r="2.5"/><circle cx="457.1" cy="322.6" r="2.5"/><circle cx="457.5" cy="314.1" r="2.5"/><circle cx="461.7" cy="302.1" r="2.5"/><circle cx="450.4" cy="349.8" r="2.5"/><circle cx="465.9" cy="283.1" r="2.5"/><circle cx="454.0" cy="336.8" r="2.5"/><circle cx="470.3" cy="277.2" r="2.5"/><circle cx="451.8" cy="347.9" r="2.5"/><circle cx="461.8" cy="314.3" r="2.5"/><circle cx="461.6" cy="302.2" r="2.5"/><circle cx="464.7" cy="314.1" r="2.5"/><circle cx="449.6" cy="352.7" r="2.5"/><circle cx="470.5" cy="286.0" r="2.5"/><circle cx="461.9" cy="314.4" r="2.5"/><circle cx="455.1" cy="332.4" r="2.5"/><circle cx="454.3" cy="331.7" r="2.5"/><circle cx="451.0" cy="342.2" r="2.5"/><circle cx="451.1" cy="351.5" r="2.5"/><circle cx="456.7" cy="328.2" r="2.5"/><circle cx="455.9" cy="343.2" r="2.5"/><circle cx="458.3" cy="315.6" r="2.5"/><circle cx="460.8" cy="376.3" r="2.5"/><circle cx="466.1" cy="285.4" r="2.5"/><circle cx="464.6" cy="303.7" r="2.5"/><circle cx="468.2" cy="286.8" r="2.5"/><circle cx="460.9" cy="304.9" r="2.5"/><circle cx="468.3" cy="272.5" r="2.5"/><circle cx="455.3" cy="318.2" r="2.5"/><circle cx="462.5" cy="300.7" r="2.5"/><circle cx="456.5" cy="311.2" r="2.5"/><circle cx="454.3" cy="352.4" r="2.5"/><circle cx="463.0" cy="290.6" r="2.5"/><circle cx="455.2" cy="332.8" r="2.5"/><circle cx="468.4" cy="280.9" r="2.5"/><circle cx="456.3" cy="333.9" r="2.5"/><circle cx="454.3" cy="344.2" r="2.5"/><circle cx="466.2" cy="307.3" r="2.5"/><circle cx="455.4" cy="322.7" r="2.5"/><circle cx="465.9" cy="298.4" r="2.5"/><circle cx="462.1" cy="317.9" r="2.5"/><circle cx="470.8" cy="273.7" r="2.5"/><circle cx="456.5" cy="342.4" r="2.5"/><circle cx="444.2" cy="357.5" r="2.5"/><circle cx="459.3" cy="328.6" r="2.5"/><circle cx="452.2" cy="351.8" r="2.5"/><circle cx="444.2" cy="358.3" r="2.5"/><circle cx="454.6" cy="324.9" r="2.5"/><circle cx="465.0" cy="305.8" r="2.5"/><circle cx="461.9" cy="301.1" r="2.5"/><circle cx="444.7" cy="402.5" r="2.5"/><circle cx="461.4" cy="330.9" r="2.5"/><circle cx="457.2" cy="309.0" r="2.5"/><circle cx="458.4" cy="351.5" r="2.5"/><circle cx="470.5" cy="297.6" r="2.5"/><circle cx="470.5" cy="282.2" r="2.5"/><circle cx="467.8" cy="295.5" r="2.5"/><circle cx="463.9" cy="315.1" r="2.5"/><circle cx="459.4" cy="317.5" r="2.5"/><circle cx="461.9" cy="335.8" r="2.5"/><circle cx="465.2" cy="305.1" r="2.5"/><circle cx="455.6" cy="336.0" r="2.5"/><circle cx="467.7" cy="290.2" r="2.5"/><circle cx="468.3" cy="285.2" r="2.5"/><circle cx="453.3" cy="375.0" r="2.5"/><circle cx="464.1" cy="288.8" r="2.5"/><circle cx="458.1" cy="303.2" r="2.5"/><circle cx="469.2" cy="288.7" r="2.5"/><circle cx="461.4" cy="334.0" r="2.5"/><circle cx="464.8" cy="300.9" r="2.5"/><circle cx="454.5" cy="354.4" r="2.5"/><circle cx="470.4" cy="283.7" r="2.5"/><circle cx="458.2" cy="337.1" r="2.5"/><circle cx="453.5" cy="330.9" r="2.5"/><circle cx="453.3" cy="345.8" r="2.5"/><circle cx="471.9" cy="286.7" r="2.5"/><circle cx="453.7" cy="339.7" r="2.5"/><circle cx="463.2" cy="292.6" r="2.5"/><circle cx="466.4" cy="301.4" r="2.5"/><circle cx="461.8" cy="314.9" r="2.5"/><circle cx="457.6" cy="313.3" r="2.5"/><circle cx="464.9" cy="277.9" r="2.5"/><circle cx="453.8" cy="337.6" r="2.5"/><circle cx="454.0" cy="350.8" r="2.5"/><circle cx="458.7" cy="319.7" r="2.5"/><circle cx="457.0" cy="335.9" r="2.5"/><circle cx="460.0" cy="300.9" r="2.5"/><circle cx="457.6" cy="317.3" r="2.5"/><circle cx="451.7" cy="366.7" r="2.5"/><circle cx="460.8" cy="360.0" r="2.5"/><circle cx="458.3" cy="314.0" r="2.5"/><circle cx="471.5" cy="281.5" r="2.5"/><circle cx="452.9" cy="333.1" r="2.5"/><circle cx="468.3" cy="281.9" r="2.5"/><circle cx="454.3" cy="333.8" r="2.5"/><circle cx="467.3" cy="306.9" r="2.5"/><circle cx="455.2" cy="354.6" r="2.5"/><circle cx="462.5" cy="331.9" r="2.5"/><circle cx="462.6" cy="307.7" r="2.5"/><circle cx="459.2" cy="386.3" r="2.5"/><circle cx="459.3" cy="340.0" r="2.5"/><circle cx="464.1" cy="312.7" r="2.5"/><circle cx="460.6" cy="301.3" r="2.5"/><circle cx="467.0" cy="275.7" r="2.5"/><circle cx="469.3" cy="285.3" r="2.5"/><circle cx="458.7" cy="346.9" r="2.5"/><circle cx="467.1" cy="296.9" r="2.5"/><circle cx="467.2" cy="296.1" r="2.5"/><circle cx="461.7" cy="336.4" r="2.5"/><circle cx="457.9" cy="312.0" r="2.5"/><circle cx="461.5" cy="301.8" r="2.5"/><circle cx="447.5" cy="350.1" r="2.5"/><circle cx="453.7" cy="345.9" r="2.5"/><circle cx="465.2" cy="296.9" r="2.5"/><circle cx="452.9" cy="342.9" r="2.5"/><circle cx="450.4" cy="352.3" r="2.5"/><circle cx="468.8" cy="282.2" r="2.5"/><circle cx="468.1" cy="291.4" r="2.5"/><circle cx="471.1" cy="275.2" r="2.5"/><circle cx="462.9" cy="300.4" r="2.5"/><circle cx="468.3" cy="294.2" r="2.5"/><circle cx="475.7" cy="275.0" r="2.5"/><circle cx="452.2" cy="330.0" r="2.5"/><circle cx="456.5" cy="296.9" r="2.5"/><circle cx="455.9" cy="335.6" r="2.5"/><circle cx="451.7" cy="380.8" r="2.5"/><circle cx="455.4" cy="344.6" r="2.5"/><circle cx="430.0" cy="390.0" r="2.5"/><circle cx="456.2" cy="323.9" r="2.5"/><circle cx="457.1" cy="336.7" r="2.5"/><circle cx="458.2" cy="338.4" r="2.5"/><circle cx="465.2" cy="285.2" r="2.5"/><circle cx="466.0" cy="282.3" r="2.5"/><circle cx="464.9" cy="310.9" r="2.5"/><circle cx="465.0" cy="296.0" r="2.5"/><circle cx="457.4" cy="348.8" r="2.5"/><circle cx="462.7" cy="313.3" r="2.5"/><circle cx="471.2" cy="281.2" r="2.5"/><circle cx="447.5" cy="348.3" r="2.5"/><circle cx="459.7" cy="322.2" r="2.5"/><circle cx="462.0" cy="298.0" r="2.5"/><circle cx="457.0" cy="351.0" r="2.5"/><circle cx="451.9" cy="355.2" r="2.5"/><circle cx="449.7" cy="346.8" r="2.5"/><circle cx="456.7" cy="364.2" r="2.5"/><circle cx="470.2" cy="292.6" r="2.5"/><circle cx="469.7" cy="269.2" r="2.5"/><circle cx="452.7" cy="352.6" r="2.5"/><circle cx="457.7" cy="298.0" r="2.5"/><circle cx="452.8" cy="334.1" r="2.5"/><circle cx="464.7" cy="301.9" r="2.5"/><circle cx="468.0" cy="290.1" r="2.5"/><circle cx="464.1" cy="312.7" r="2.5"/><circle cx="451.6" cy="330.2" r="2.5"/><circle cx="457.8" cy="313.3" r="2.5"/><circle cx="469.8" cy="291.1" r="2.5"/><circle cx="472.8" cy="279.3" r="2.5"/><circle cx="470.6" cy="293.8" r="2.5"/><circle cx="439.5" cy="412.0" r="2.5"/><circle cx="455.6" cy="316.2" r="2.5"/><circle cx="469.0" cy="279.0" r="2.5"/><circle cx="460.4" cy="345.3" r="2.5"/><circle cx="458.0" cy="337.7" r="2.5"/><circle cx="466.2" cy="294.6" r="2.5"/><circle cx="455.8" cy="339.8" r="2.5"/><circle cx="455.1" cy="327.9" r="2.5"/><circle cx="466.1" cy="316.4" r="2.5"/><circle cx="464.5" cy="313.1" r="2.5"/><circle cx="434.7" cy="404.7" r="2.5"/><circle cx="468.4" cy="292.7" r="2.5"/><circle cx="467.9" cy="281.5" r="2.5"/><circle cx="459.5" cy="333.7" r="2.5"/><circle cx="437.5" cy="371.7" r="2.5"/><circle cx="417.0" cy="396.7" r="2.5"/><circle cx="453.0" cy="346.6" r="2.5"/><circle cx="467.6" cy="301.4" r="2.5"/><circle cx="465.0" cy="361.7" r="2.5"/><circle cx="455.9" cy="338.3" r="2.5"/><circle cx="449.5" cy="347.8" r="2.5"/><circle cx="457.7" cy="314.4" r="2.5"/><circle cx="460.1" cy="297.9" r="2.5"/><circle cx="464.8" cy="283.9" r="2.5"/><circle cx="459.6" cy="323.2" r="2.5"/><circle cx="451.7" cy="355.2" r="2.5"/><circle cx="460.6" cy="332.0" r="2.5"/><circle cx="455.5" cy="352.6" r="2.5"/><circle cx="462.2" cy="312.2" r="2.5"/></g>
<path d="M418.0,373.3C418.9,375.5 421.6,383.7 423.3,386.7C425.0,389.7 426.4,390.8 428.3,391.3C430.2,391.8 432.9,391.3 435.0,389.5C437.1,387.7 439.1,383.5 440.8,380.3C442.5,377.1 443.8,373.9 445.0,370.3C446.2,366.7 447.3,362.6 448.3,358.7C449.3,354.8 449.7,351.4 450.8,347.0C451.9,342.6 453.5,337.7 455.0,332.0C456.5,326.3 458.3,319.2 460.0,313.0C461.7,306.8 463.4,300.7 465.0,295.0C466.6,289.3 468.3,283.7 469.5,279.0C470.7,274.3 471.6,269.0 472.0,267.0L472.0,273.0C471.6,275.0 470.7,280.3 469.5,285.0C468.3,289.7 466.6,295.3 465.0,301.0C463.4,306.7 461.7,312.8 460.0,319.0C458.3,325.2 456.5,332.3 455.0,338.0C453.5,343.7 451.9,348.6 450.8,353.0C449.7,357.4 449.3,360.8 448.3,364.7C447.3,368.6 446.2,372.7 445.0,376.3C443.8,379.9 442.5,383.1 440.8,386.3C439.1,389.5 437.1,392.3 435.0,395.5C432.9,398.7 430.2,402.8 428.3,405.3C426.4,407.8 425.0,408.9 423.3,410.7C421.6,412.5 418.9,415.4 418.0,416.3Z" fill="#999" fill-opacity="0.4"/>
<path d="M418.0,395.3C418.9,395.9 421.6,398.2 423.3,398.7C425.0,399.2 426.4,399.3 428.3,398.3C430.2,397.3 432.9,395.0 435.0,392.5C437.1,390.0 439.1,386.5 440.8,383.3C442.5,380.1 443.8,376.9 445.0,373.3C446.2,369.7 447.3,365.6 448.3,361.7C449.3,357.8 449.7,354.4 450.8,350.0C451.9,345.6 453.5,340.7 455.0,335.0C456.5,329.3 458.3,322.2 460.0,316.0C461.7,309.8 463.4,303.7 465.0,298.0C466.6,292.3 468.3,286.7 469.5,282.0C470.7,277.3 471.6,272.0 472.0,270.0" fill="none" stroke="#7a4a45" stroke-width="2.7"/>
<g stroke="#ececec" stroke-width="0.5"><line x1="519.6" x2="519.6" y1="256" y2="433.3"/><line x1="533.3" x2="533.3" y1="256" y2="433.3"/><line x1="547.1" x2="547.1" y1="256" y2="433.3"/><line x1="560.8" x2="560.8" y1="256" y2="433.3"/><line x1="510.2" x2="571.3" y1="292.9" y2="292.9"/><line x1="510.2" x2="571.3" y1="349.4" y2="349.4"/><line x1="510.2" x2="571.3" y1="405.9" y2="405.9"/></g><g stroke="#e8e8e8" stroke-width="0.85"><line x1="512.7" x2="512.7" y1="256" y2="433.3"/><line x1="526.4" x2="526.4" y1="256" y2="433.3"/><line x1="540.2" x2="540.2" y1="256" y2="433.3"/><line x1="553.9" x2="553.9" y1="256" y2="433.3"/><line x1="567.7" x2="567.7" y1="256" y2="433.3"/><line x1="510.2" x2="571.3" y1="264.7" y2="264.7"/><line x1="510.2" x2="571.3" y1="321.2" y2="321.2"/><line x1="510.2" x2="571.3" y1="377.7" y2="377.7"/></g><text x="540.7" y="250" font-size="10.6" text-anchor="middle" fill="#1a1a1a">Oceania</text><g font-size="9.8" fill="#4d4d4d"><text x="503.5" y="268.1" text-anchor="end">10.5</text><text x="503.5" y="324.6" text-anchor="end">10.0</text><text x="503.5" y="381.1" text-anchor="end">9.5</text><text x="512.7" y="448" text-anchor="middle">69</text><text x="526.4" y="448" text-anchor="middle">72</text><text x="540.2" y="448" text-anchor="middle">75</text><text x="553.9" y="448" text-anchor="middle">78</text><text x="567.7" y="448" text-anchor="middle">81</text></g>
<g fill="#3a2a22" fill-opacity="0.5" stroke="#3a2a22" stroke-opacity="0.5" stroke-width="0.95"><circle cx="568.8" cy="270.7" r="2.5"/><circle cx="564.3" cy="283.8" r="2.5"/><circle cx="557.7" cy="298.3" r="2.5"/><circle cx="564.0" cy="306.3" r="2.5"/><circle cx="551.8" cy="314.7" r="2.5"/><circle cx="559.0" cy="315.8" r="2.5"/><circle cx="546.0" cy="321.7" r="2.5"/><circle cx="551.8" cy="326.7" r="2.5"/><circle cx="537.2" cy="335.3" r="2.5"/><circle cx="546.3" cy="342.0" r="2.5"/><circle cx="532.7" cy="342.5" r="2.5"/><circle cx="534.7" cy="346.7" r="2.5"/><circle cx="525.5" cy="352.0" r="2.5"/><circle cx="525.2" cy="357.0" r="2.5"/><circle cx="521.8" cy="368.3" r="2.5"/><circle cx="524.2" cy="368.5" r="2.5"/><circle cx="523.2" cy="380.0" r="2.5"/><circle cx="519.3" cy="388.0" r="2.5"/><circle cx="518.5" cy="400.5" r="2.5"/><circle cx="513.5" cy="404.2" r="2.5"/><circle cx="512.3" cy="410.3" r="2.5"/><circle cx="522.3" cy="368.3" r="2.5"/><circle cx="516.5" cy="396.0" r="2.5"/><circle cx="529.0" cy="349.0" r="2.5"/></g>
<path d="M512.7,410.3C513.2,407.2 514.8,397.8 516.0,392.0C517.2,386.2 518.8,380.5 520.2,375.3C521.6,370.1 522.8,365.7 524.3,361.0C525.8,356.3 527.8,351.2 529.3,347.0C530.8,342.8 531.3,339.6 533.5,336.0C535.7,332.4 539.9,328.4 542.7,325.7C545.5,323.0 548.0,322.3 550.2,319.7C552.4,317.1 554.2,313.8 556.0,310.3C557.8,306.8 559.3,302.6 561.0,298.7C562.7,294.8 564.7,291.4 566.0,287.0C567.3,282.6 568.3,274.9 568.8,272.5L568.8,282.5C568.3,284.2 567.3,289.3 566.0,293.0C564.7,296.7 562.7,300.8 561.0,304.7C559.3,308.6 557.8,312.3 556.0,316.3C554.2,320.3 552.4,325.1 550.2,328.7C548.0,332.3 545.5,335.1 542.7,337.7C539.9,340.2 535.7,341.4 533.5,344.0C531.3,346.6 530.8,349.2 529.3,353.0C527.8,356.8 525.8,362.3 524.3,367.0C522.8,371.7 521.6,376.1 520.2,381.3C518.8,386.5 517.2,391.3 516.0,398.0C514.8,404.7 513.2,417.4 512.7,421.3Z" fill="#999" fill-opacity="0.4"/>
<path d="M512.7,413.3C513.2,410.2 514.8,400.8 516.0,395.0C517.2,389.2 518.8,383.5 520.2,378.3C521.6,373.1 522.8,368.7 524.3,364.0C525.8,359.3 527.8,354.0 529.3,350.0C530.8,346.0 531.3,343.1 533.5,340.0C535.7,336.9 539.9,334.3 542.7,331.7C545.5,329.1 548.0,327.3 550.2,324.2C552.4,321.1 554.2,317.1 556.0,313.3C557.8,309.6 559.3,305.6 561.0,301.7C562.7,297.8 564.7,294.0 566.0,290.0C567.3,286.0 568.3,279.6 568.8,277.5" fill="none" stroke="#26150d" stroke-width="2.7"/>
<text x="536.5" y="462.5" font-size="13.2" text-anchor="middle" fill="#000">lifeExp</text>
<text transform="translate(390.3,234.3) rotate(-90)" font-size="13.2" text-anchor="middle" fill="#000">log(gdpPercap)</text>
</svg>
</body></html>
